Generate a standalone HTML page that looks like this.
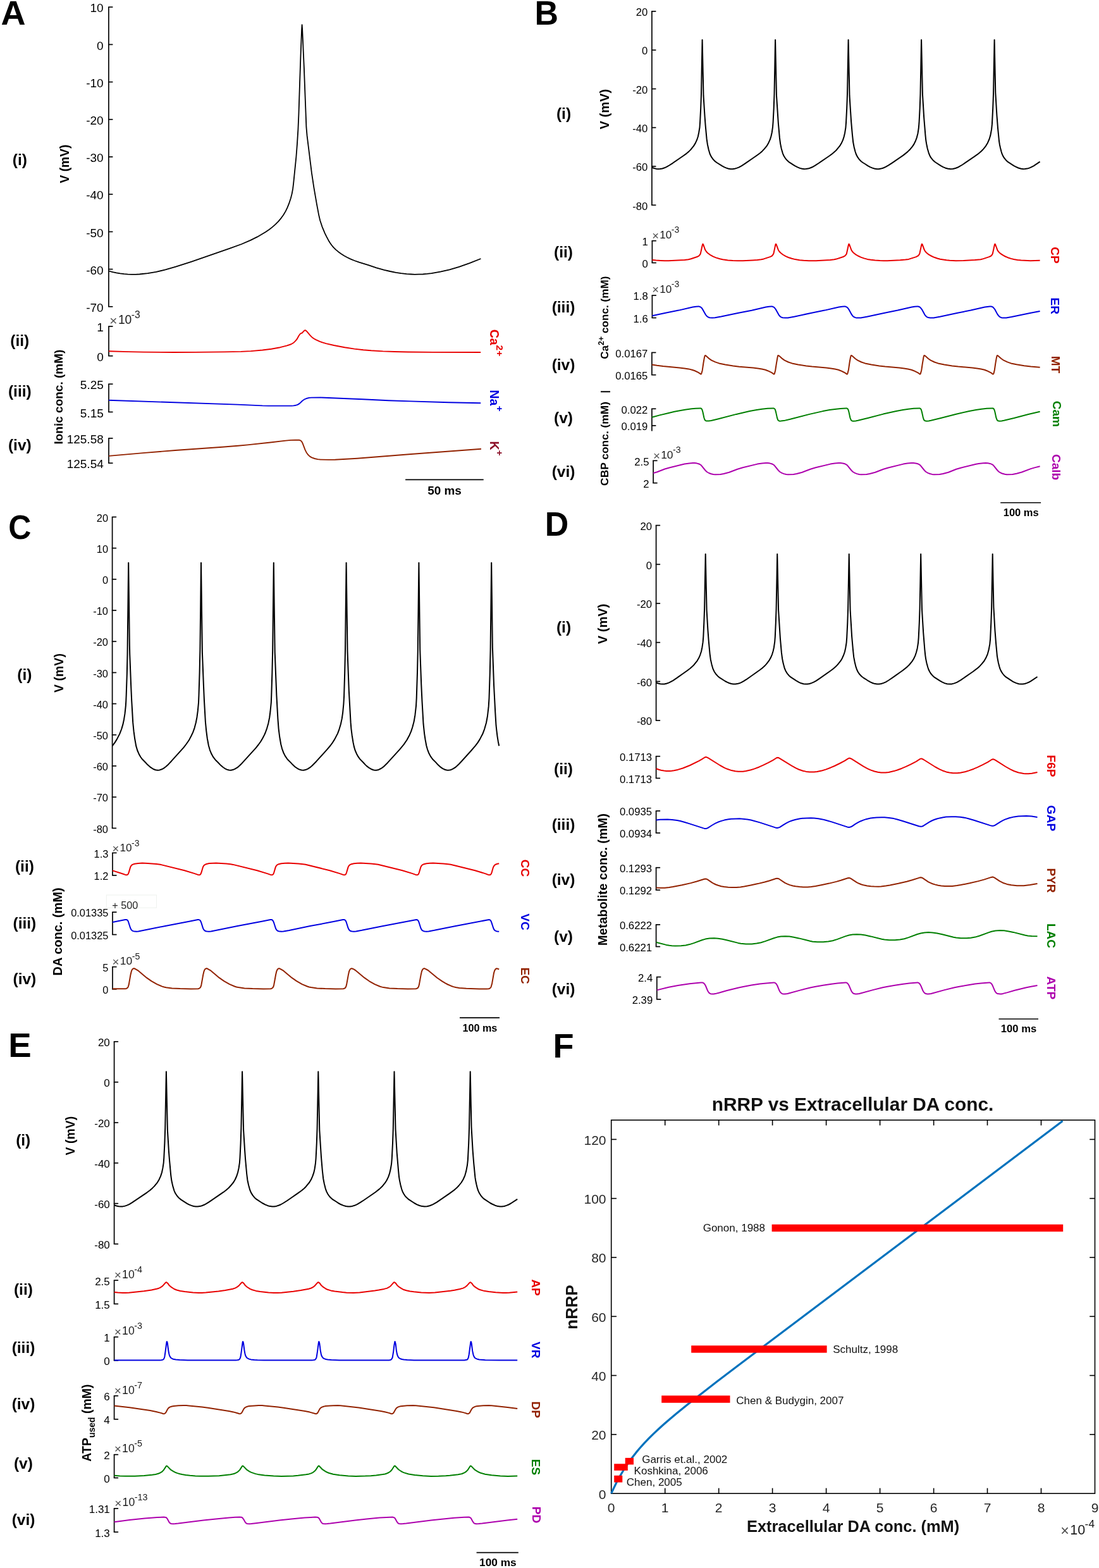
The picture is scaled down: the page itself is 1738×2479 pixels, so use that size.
<!DOCTYPE html>
<html><head><meta charset="utf-8"><title>Figure</title><style>html,body{margin:0;padding:0;background:#fff;overflow:hidden;}svg{display:block;}text{font-family:"Liberation Sans",Arial,Helvetica,sans-serif;}</style></head><body>
<svg width="1738" height="2479" viewBox="0 0 1738 2479"><text x="0" y="0" font-size="53" font-weight="bold" fill="#000" transform="translate(1.5 39) scale(1.02 1)">A</text>
<line x1="171.9" y1="11.2" x2="171.9" y2="484.8" stroke="#000" stroke-width="1.7" stroke-linecap="butt"/>
<line x1="171.1" y1="11.2" x2="178.4" y2="11.2" stroke="#000" stroke-width="1.7" stroke-linecap="butt"/>
<text x="163.7" y="19.4" font-size="19" text-anchor="end" fill="#000">10</text>
<line x1="171.1" y1="70.4" x2="178.4" y2="70.4" stroke="#000" stroke-width="1.7" stroke-linecap="butt"/>
<text x="163.7" y="78.6" font-size="19" text-anchor="end" fill="#000">0</text>
<line x1="171.1" y1="129.6" x2="178.4" y2="129.6" stroke="#000" stroke-width="1.7" stroke-linecap="butt"/>
<text x="163.7" y="137.8" font-size="19" text-anchor="end" fill="#000">-10</text>
<line x1="171.1" y1="188.8" x2="178.4" y2="188.8" stroke="#000" stroke-width="1.7" stroke-linecap="butt"/>
<text x="163.7" y="197" font-size="19" text-anchor="end" fill="#000">-20</text>
<line x1="171.1" y1="248" x2="178.4" y2="248" stroke="#000" stroke-width="1.7" stroke-linecap="butt"/>
<text x="163.7" y="256.2" font-size="19" text-anchor="end" fill="#000">-30</text>
<line x1="171.1" y1="307.2" x2="178.4" y2="307.2" stroke="#000" stroke-width="1.7" stroke-linecap="butt"/>
<text x="163.7" y="315.4" font-size="19" text-anchor="end" fill="#000">-40</text>
<line x1="171.1" y1="366.4" x2="178.4" y2="366.4" stroke="#000" stroke-width="1.7" stroke-linecap="butt"/>
<text x="163.7" y="374.6" font-size="19" text-anchor="end" fill="#000">-50</text>
<line x1="171.1" y1="425.6" x2="178.4" y2="425.6" stroke="#000" stroke-width="1.7" stroke-linecap="butt"/>
<text x="163.7" y="433.8" font-size="19" text-anchor="end" fill="#000">-60</text>
<line x1="171.1" y1="484.8" x2="178.4" y2="484.8" stroke="#000" stroke-width="1.7" stroke-linecap="butt"/>
<text x="163.7" y="493" font-size="19" text-anchor="end" fill="#000">-70</text>
<path d="M172.1 428.5 178.1 430.1 184.1 431.3 190.1 432.3 196.1 433.1 202.1 433.6 208.3 433.8 214.6 433.8 220.8 433.5 233.6 432.2 247.1 429.9 261.6 426.4 278.1 421.7 302.4 413.8 363.6 392.7 381.9 386 396.1 379.9 407.1 374.4 420.1 366.7 425.6 363 430.6 359.1 435.4 354.9 440.4 349.8 444.6 344.8 448.1 340 451.6 334.1 454.6 327.9 456.9 322.2 459.9 313.2 461.6 306.6 463.1 298.7 464.1 290.3 468.4 248 469.9 228.4 471.4 204.9 472.4 181.3 475.4 90.5 477.1 46.7 477.6 39.1 478.1 45.6 480.9 108.3 484.4 200.7 485.6 214.7 492.9 273.4 496.4 296.6 500.9 322.7 504.1 339.6 506.1 348.2 509.4 358.3 513.9 369.1 516.4 374.2 519.6 380.2 522.1 384.3 524.4 387.5 527.4 391.1 530.9 394.6 534.9 397.9 539.4 401.2 544.1 404.3 549.1 407 554.6 409.6 560.4 412 567.9 414.7 582.6 419.1 595.1 423.4 607.6 426.8 616.9 429 625.9 430.8 634.4 432.1 642.9 433.1 649.4 433.5 655.9 433.8 662.4 433.7 668.9 433.5 675.6 432.9 682.4 432.1 696.4 429.7 710.9 426.3 726.1 421.8 742.4 416.1 760.4 409" fill="none" stroke="#000" stroke-width="1.8" stroke-linejoin="round" stroke-linecap="butt"/>
<text x="31.3" y="260.8" font-size="24.5" font-weight="bold" text-anchor="middle" fill="#000">(i)</text>
<text x="108.9" y="259" font-size="19.3" font-weight="bold" text-anchor="middle" fill="#000" transform="rotate(-90 108.9 259)">V (mV)</text>
<line x1="172" y1="516" x2="172" y2="562.7" stroke="#000" stroke-width="1.7" stroke-linecap="butt"/>
<line x1="171.2" y1="516" x2="178.5" y2="516" stroke="#000" stroke-width="1.7" stroke-linecap="butt"/>
<text x="163.8" y="524.2" font-size="19" text-anchor="end" fill="#000">1</text>
<line x1="171.2" y1="562.7" x2="178.5" y2="562.7" stroke="#000" stroke-width="1.7" stroke-linecap="butt"/>
<text x="163.8" y="570.9" font-size="19" text-anchor="end" fill="#000">0</text>
<text x="173.3" y="514" font-size="20.8" fill="#505050">&#215;</text>
<text x="186.9" y="512.1" font-size="19.3" fill="#1a1a1a">10</text>
<text x="207.8" y="502.5" font-size="15.6" fill="#1a1a1a">-3</text>
<path d="M172 555.3 202.5 556.1 227 556.6 274.5 557 308 556.9 355.1 556.4 381.1 555.9 396.6 555.1 415.1 553.5 429.1 551.7 443.1 549.2 453.1 546.6 458.1 545 461.1 543.8 464.6 541.7 467.6 538.7 469.6 536.2 472.6 530.7 474.6 528 475.6 527.2 477.6 526.5 480.6 523.3 481.6 522.5 482.6 522.1 483.6 522.5 485.6 524.4 490.6 530.3 494.1 533.8 496.6 535.5 499.6 537.2 505.6 539.9 510.6 541.6 515.6 543.1 528.1 546 545.1 549.3 560.6 551.6 574.6 553.2 587.1 554.3 605.6 555.4 623.7 556 645.2 556.5 685.2 556.9 760.2 557" fill="none" stroke="#e80000" stroke-width="1.9" stroke-linejoin="round" stroke-linecap="butt"/>
<text x="31.3" y="547.2" font-size="24.5" font-weight="bold" text-anchor="middle" fill="#000">(ii)</text>
<line x1="172" y1="607.2" x2="172" y2="651.4" stroke="#000" stroke-width="1.7" stroke-linecap="butt"/>
<line x1="171.2" y1="607.2" x2="178.5" y2="607.2" stroke="#000" stroke-width="1.7" stroke-linecap="butt"/>
<text x="163.8" y="615.4" font-size="19" text-anchor="end" fill="#000">5.25</text>
<line x1="171.2" y1="651.4" x2="178.5" y2="651.4" stroke="#000" stroke-width="1.7" stroke-linecap="butt"/>
<text x="163.8" y="659.6" font-size="19" text-anchor="end" fill="#000">5.15</text>
<path d="M172 632.8 375.6 639.6 415.1 641.4 424.1 641.6 461.1 641.6 464.1 641.4 466.6 641 469.1 640.4 471.1 639.6 474.1 637.6 478.1 633.8 480.1 632.3 482.6 630.8 485.6 629.7 489.1 628.9 492.6 628.6 507.6 628.5 573.6 631.2 614.7 633.2 648.7 634.4 709.7 636.3 760.2 637.3" fill="none" stroke="#0000e0" stroke-width="1.9" stroke-linejoin="round" stroke-linecap="butt"/>
<text x="31.3" y="626.6" font-size="24.5" font-weight="bold" text-anchor="middle" fill="#000">(iii)</text>
<line x1="172" y1="692.9" x2="172" y2="732.2" stroke="#000" stroke-width="1.7" stroke-linecap="butt"/>
<line x1="171.2" y1="692.9" x2="178.5" y2="692.9" stroke="#000" stroke-width="1.7" stroke-linecap="butt"/>
<text x="163.8" y="701.1" font-size="19" text-anchor="end" fill="#000">125.58</text>
<line x1="171.2" y1="732.2" x2="178.5" y2="732.2" stroke="#000" stroke-width="1.7" stroke-linecap="butt"/>
<text x="163.8" y="740.4" font-size="19" text-anchor="end" fill="#000">125.54</text>
<path d="M172 720.9 229.5 715.9 277 712 351.5 706.8 376.5 704.8 391.5 703.4 427.5 699.5 452 696.6 460 695.9 467 695.6 473.5 695.8 475 696.3 476.5 697.4 477.5 698.8 478.5 700.7 482.5 711.1 484.5 715.2 487 718.8 490 721.6 493 723.4 497.5 725 502.5 726.1 507 726.6 519.5 726.9 530 726.7 565 724.7 650 718 761 709.7" fill="none" stroke="#922200" stroke-width="1.9" stroke-linejoin="round" stroke-linecap="butt"/>
<text x="31.3" y="712.2" font-size="24.5" font-weight="bold" text-anchor="middle" fill="#000">(iv)</text>
<text x="99" y="627.6" font-size="19" font-weight="bold" text-anchor="middle" fill="#000" transform="rotate(-90 99 627.6)">Ionic conc. (mM)</text>
<text x="775.3" y="542" font-size="19.5" font-weight="bold" text-anchor="middle" fill="#e80000" transform="rotate(90 775.3 542)">Ca<tspan dy="-10" font-size="15.5">2+</tspan></text>
<text x="775.3" y="633.5" font-size="19.5" font-weight="bold" text-anchor="middle" fill="#0000e0" transform="rotate(90 775.3 633.5)">Na<tspan dy="-10" font-size="15.5">+</tspan></text>
<text x="775.3" y="709" font-size="19.5" font-weight="bold" text-anchor="middle" fill="#8c1028" transform="rotate(90 775.3 709)">K<tspan dy="-10" font-size="15.5">+</tspan></text>
<line x1="641.1" y1="758.4" x2="764.7" y2="758.4" stroke="#000" stroke-width="1.6" stroke-linecap="butt"/>
<text x="703" y="782.2" font-size="18.9" font-weight="bold" text-anchor="middle">50 ms</text>
<text x="0" y="0" font-size="53" font-weight="bold" fill="#000" transform="translate(845.5 39) scale(0.98 1)">B</text>
<line x1="1030.9" y1="17.9" x2="1030.9" y2="324.3" stroke="#000" stroke-width="1.7" stroke-linecap="butt"/>
<line x1="1030.1" y1="17.9" x2="1037.4" y2="17.9" stroke="#000" stroke-width="1.7" stroke-linecap="butt"/>
<text x="1024.3" y="25.1" font-size="16.7" text-anchor="end" fill="#000">20</text>
<line x1="1030.1" y1="79.2" x2="1037.4" y2="79.2" stroke="#000" stroke-width="1.7" stroke-linecap="butt"/>
<text x="1024.3" y="86.4" font-size="16.7" text-anchor="end" fill="#000">0</text>
<line x1="1030.1" y1="140.5" x2="1037.4" y2="140.5" stroke="#000" stroke-width="1.7" stroke-linecap="butt"/>
<text x="1024.3" y="147.6" font-size="16.7" text-anchor="end" fill="#000">-20</text>
<line x1="1030.1" y1="201.7" x2="1037.4" y2="201.7" stroke="#000" stroke-width="1.7" stroke-linecap="butt"/>
<text x="1024.3" y="208.9" font-size="16.7" text-anchor="end" fill="#000">-40</text>
<line x1="1030.1" y1="263" x2="1037.4" y2="263" stroke="#000" stroke-width="1.7" stroke-linecap="butt"/>
<text x="1024.3" y="270.2" font-size="16.7" text-anchor="end" fill="#000">-60</text>
<line x1="1030.1" y1="324.3" x2="1037.4" y2="324.3" stroke="#000" stroke-width="1.7" stroke-linecap="butt"/>
<text x="1024.3" y="331.5" font-size="16.7" text-anchor="end" fill="#000">-80</text>
<path d="M1031 264.7 1034.4 266 1037.7 266.9 1041 267.2 1044.2 267.1 1047.5 266.5 1051 265.3 1054.1 263.9 1058.3 261.5 1064 257.8 1081.1 246 1085.8 242.6 1089.5 239.4 1092.3 236.6 1097.1 230.6 1099.7 226.4 1102.1 221.2 1103.9 215.7 1105.2 209.5 1106.5 201.5 1107.1 193 1108.2 171.1 1109 148.8 1110.6 63 1112.5 151.4 1114.5 183.3 1115.6 197.9 1117.6 219.7 1118.9 228.5 1120.6 236.2 1122.6 243.2 1124.6 247.4 1127.4 251.5 1130.3 254.6 1133.4 257 1142.4 262.7 1145.7 264.4 1148.8 265.6 1152.2 266.7 1155.4 267.2 1158.6 267.2 1161.8 266.7 1164.9 265.9 1168.3 264.6 1172.1 262.6 1176.4 259.9 1197.6 245.3 1202 242 1205.5 238.9 1208.8 235.4 1212.9 230.3 1215.4 225.9 1217.8 220.7 1219.5 215.2 1220.8 209.2 1222 200.9 1222.6 193 1223.7 171.1 1224.5 148.8 1226.1 63 1228 151.4 1230.9 195.5 1232.9 217.9 1234.1 227.1 1235.7 234.9 1237.8 242.3 1239.6 246.5 1242 250.3 1244.8 253.6 1248 256.4 1256.5 261.9 1261.3 264.4 1264.9 265.9 1268.3 266.8 1271.6 267.2 1274.7 267.1 1278 266.6 1281.4 265.5 1284.4 264.3 1288.7 261.9 1294.7 258 1311.9 246.2 1316.6 242.7 1320.3 239.6 1323.2 236.7 1328.1 230.7 1330.6 226.6 1333 221.4 1334.7 216.1 1336.1 210.2 1337.4 202 1338 194.2 1339.2 171.1 1340 148.8 1341.6 63 1343.5 151.4 1346.1 192.2 1347.9 212.6 1349.2 224.8 1350.7 232.7 1352.6 240 1354.1 244.3 1356.1 248.2 1358.8 252 1362 255.2 1364.4 257 1368.5 259.5 1372 261.9 1376 264.1 1379.8 265.6 1383.4 266.7 1386.7 267.2 1390 267.2 1393.4 266.6 1397 265.5 1400.6 263.9 1405.4 261.2 1411.6 257.1 1428.3 245.6 1434.9 240.4 1438.6 236.8 1443.1 231.4 1445.7 227.4 1448 222.5 1449.9 217.3 1451.5 210.9 1452.8 202.5 1453.5 194.2 1454.7 171.1 1455.5 148.8 1457.1 63 1459 150 1461.2 186.1 1463.4 213.3 1464.3 222 1465.2 227.5 1466.6 234.4 1468.4 240.8 1469.6 244.3 1471.2 247.6 1473.3 250.7 1475.6 253.4 1479.2 256.5 1487.5 261.9 1491.5 264.1 1495.3 265.7 1499.3 266.8 1503.2 267.2 1507 267 1511 266 1515.6 264.2 1521.9 260.5 1541.1 247.4 1547.6 242.7 1551.9 239 1555.2 235.6 1559 230.8 1561.9 225.9 1564.5 220 1566.4 213.6 1568.1 204.4 1568.9 196.4 1570.2 171.1 1571 148.8 1572.6 63 1574.3 146.7 1576.5 183.3 1578 202.4 1580 223 1580.8 228.2 1582 233.8 1583.4 239.3 1584.6 243.2 1586.3 246.9 1588.4 250.2 1590.9 253.2 1593.8 255.9 1603 261.9 1605.8 263.4 1610.4 265.5 1614.7 266.8 1618 267.2 1621.2 267.1 1624.5 266.6 1627.8 265.6 1630.6 264.4 1634.6 262.3 1644.6 255.7" fill="none" stroke="#000" stroke-width="2.0" stroke-linejoin="round" stroke-linecap="butt"/>
<text x="891.5" y="187.6" font-size="24.5" font-weight="bold" text-anchor="middle" fill="#000">(i)</text>
<text x="962.6" y="172.7" font-size="20.1" font-weight="bold" text-anchor="middle" fill="#000" transform="rotate(-90 962.6 172.7)">V (mV)</text>
<line x1="1031.4" y1="380.7" x2="1031.4" y2="415.5" stroke="#000" stroke-width="1.7" stroke-linecap="butt"/>
<line x1="1030.6" y1="380.7" x2="1037.9" y2="380.7" stroke="#000" stroke-width="1.7" stroke-linecap="butt"/>
<text x="1024.8" y="387.9" font-size="16.7" text-anchor="end" fill="#000">1</text>
<line x1="1030.6" y1="415.5" x2="1037.9" y2="415.5" stroke="#000" stroke-width="1.7" stroke-linecap="butt"/>
<text x="1024.8" y="422.7" font-size="16.7" text-anchor="end" fill="#000">0</text>
<text x="1031.3" y="378.7" font-size="18.5" fill="#505050">&#215;</text>
<text x="1043.3" y="377" font-size="17.1" fill="#1a1a1a">10</text>
<text x="1061.8" y="368.4" font-size="13.9" fill="#1a1a1a">-3</text>
<path d="M1031.4 410.9 1037.4 411.6 1044.4 412 1051.2 412.3 1057.2 412.2 1082.7 410.9 1088.7 410.2 1092.7 409.2 1103.2 405.7 1105.2 404.6 1106.4 403.4 1107.4 401.8 1107.9 400.6 1110.7 387.8 1111.4 385.8 1111.7 385.9 1112.2 386.7 1114.9 394.2 1115.7 395.8 1117.4 398.3 1119.4 400.3 1122.9 402.8 1127.9 405.6 1132.2 407.4 1138.4 409.3 1142.9 410.3 1151.2 411.4 1158.9 412 1166.7 412.3 1174.9 412.2 1190.5 411.4 1197.7 410.9 1203.7 410.3 1207.7 409.4 1217.7 406.1 1220 405.1 1221.5 403.9 1222.7 402.2 1223.5 400.5 1226.2 387.6 1226.7 386.1 1227 385.8 1227.2 385.9 1227.7 386.7 1231 395.5 1232.5 397.7 1234.5 399.8 1238 402.5 1242.5 405.1 1246.7 407 1252.2 408.8 1257.5 410.1 1264.5 411.2 1270.2 411.7 1279.2 412.2 1290.5 412.2 1313 410.9 1319.2 410.3 1322.5 409.6 1333.5 406 1335.2 405.2 1336.5 404.3 1337.7 402.9 1338.8 401.2 1341.8 387.5 1342.3 386 1342.5 385.8 1342.8 385.9 1343.3 386.8 1346.5 395.5 1347.8 397.5 1349.5 399.4 1352.8 402.1 1356.8 404.5 1361.3 406.6 1366.3 408.4 1371.8 409.9 1377.3 410.8 1383.8 411.6 1391.5 412.1 1397.5 412.3 1403.3 412.2 1423.5 411.3 1431.8 410.6 1436.8 409.9 1448.8 406.1 1451.5 404.7 1453 403.2 1454.3 401.1 1457.3 387.3 1457.8 386 1458 385.8 1458.8 386.9 1461.8 395.1 1462.8 396.8 1464.3 398.7 1466.8 401 1469.5 402.9 1473.3 405 1477.3 406.8 1482.3 408.5 1486.8 409.8 1496.8 411.3 1501.8 411.8 1511.6 412.3 1523.8 412.1 1541.8 411.1 1550.8 410.2 1555.1 409.1 1564.1 406.1 1566.1 405.3 1567.1 404.7 1568.1 403.8 1569.1 402.4 1569.8 401 1572.8 387.2 1573.3 385.9 1573.6 385.8 1574.3 387 1577.3 395.2 1578.3 396.9 1579.8 398.7 1582.6 401.2 1585.6 403.2 1589.8 405.5 1593.8 407.2 1598.8 408.9 1603.3 410 1609.1 410.9 1614.8 411.6 1629.6 412.3 1644.6 411.8" fill="none" stroke="#e80000" stroke-width="2.0" stroke-linejoin="round" stroke-linecap="butt"/>
<text x="891" y="406.8" font-size="24.5" font-weight="bold" text-anchor="middle" fill="#000">(ii)</text>
<line x1="1031.4" y1="467" x2="1031.4" y2="502.5" stroke="#000" stroke-width="1.7" stroke-linecap="butt"/>
<line x1="1030.6" y1="467" x2="1037.9" y2="467" stroke="#000" stroke-width="1.7" stroke-linecap="butt"/>
<text x="1024.8" y="474.2" font-size="16.7" text-anchor="end" fill="#000">1.8</text>
<line x1="1030.6" y1="502.5" x2="1037.9" y2="502.5" stroke="#000" stroke-width="1.7" stroke-linecap="butt"/>
<text x="1024.8" y="509.7" font-size="16.7" text-anchor="end" fill="#000">1.6</text>
<text x="1031.3" y="464.4" font-size="18.5" fill="#505050">&#215;</text>
<text x="1043.3" y="462.7" font-size="17.1" fill="#1a1a1a">10</text>
<text x="1061.8" y="454.1" font-size="13.9" fill="#1a1a1a">-3</text>
<path d="M1031.4 499.3 1052.4 494.7 1073.4 490.6 1095.4 485.5 1100.7 484.7 1104.2 484.4 1105.7 484.6 1107.4 485.2 1108.4 485.8 1109.7 486.9 1111.4 489.4 1115.9 497.5 1117.2 499.2 1118.7 500.6 1120.2 501.5 1122.2 502.3 1126.4 502.6 1130.7 502.3 1140.4 500.6 1167.9 494.7 1188.7 490.7 1211 485.5 1216 484.7 1219.5 484.4 1221 484.5 1222.7 485.1 1224 485.8 1225.2 487 1227 489.4 1231.5 497.6 1232.7 499.2 1234.2 500.7 1235.7 501.6 1237.7 502.3 1241.7 502.6 1246 502.4 1255.7 500.7 1283.5 494.7 1304.2 490.6 1326.5 485.5 1331.7 484.7 1335 484.4 1336.5 484.5 1338.3 485.1 1339.5 485.8 1340.8 487 1342.3 489.1 1346.8 497.2 1348 498.9 1349.5 500.5 1350.8 501.3 1352.8 502.1 1354.3 502.5 1356.8 502.6 1361.3 502.4 1371 500.7 1399 494.7 1419.8 490.6 1441.8 485.6 1446.5 484.8 1450.3 484.4 1451.8 484.5 1453.5 485 1454.8 485.7 1456 486.8 1457.8 489.1 1462.3 497.3 1463.5 499 1465 500.5 1466.3 501.4 1468 502.1 1471 502.5 1476.5 502.4 1486.3 500.8 1514.3 494.7 1535.3 490.6 1557.3 485.6 1565.3 484.4 1567.1 484.5 1568.3 484.7 1569.8 485.4 1570.8 486.1 1573.1 488.8 1577.3 496.6 1579.3 499.3 1580.6 500.6 1581.8 501.4 1583.8 502.2 1585.6 502.5 1591.3 502.5 1599.8 501.1 1630.1 494.7 1644.6 491.9" fill="none" stroke="#0000e0" stroke-width="2.0" stroke-linejoin="round" stroke-linecap="butt"/>
<text x="891" y="493.8" font-size="24.5" font-weight="bold" text-anchor="middle" fill="#000">(iii)</text>
<line x1="1030.9" y1="557.4" x2="1030.9" y2="592.7" stroke="#000" stroke-width="1.7" stroke-linecap="butt"/>
<line x1="1030.1" y1="557.4" x2="1037.4" y2="557.4" stroke="#000" stroke-width="1.7" stroke-linecap="butt"/>
<text x="1024.3" y="564.6" font-size="16.7" text-anchor="end" fill="#000">0.0167</text>
<line x1="1030.1" y1="592.7" x2="1037.4" y2="592.7" stroke="#000" stroke-width="1.7" stroke-linecap="butt"/>
<text x="1024.3" y="599.9" font-size="16.7" text-anchor="end" fill="#000">0.0165</text>
<path d="M1030.9 576.5 1038.9 577.8 1048.7 579.1 1074.7 581.4 1082.7 582.4 1089.2 583.4 1094.4 584.7 1098.4 586 1103.9 588.7 1105.9 589.8 1107.7 591.3 1108.7 591.6 1109.4 590.3 1110.7 585.7 1112.4 574 1113.9 565.4 1114.7 562.4 1115.2 561.9 1116.4 562.5 1120.9 566.6 1125.2 569.6 1131.2 572.4 1137.2 574.4 1146.9 576.6 1159.4 578.5 1168.9 579.7 1191.2 581.5 1198.7 582.4 1205 583.5 1210.5 584.8 1214.2 586.2 1220 588.9 1221.5 589.8 1223.2 591.3 1224 591.6 1224.5 591.3 1225 590.2 1226.2 585.5 1228 573.8 1229.5 565.2 1230.2 562.3 1230.5 562 1230.7 561.9 1232 562.6 1236.5 566.6 1240.7 569.6 1246.7 572.5 1252.5 574.4 1262.2 576.5 1275 578.6 1284.2 579.6 1306.7 581.5 1314.2 582.4 1320.5 583.5 1326 584.8 1329.7 586.2 1335.5 589 1337 589.9 1338.8 591.3 1339.5 591.6 1340 591.3 1340.5 590.1 1341.8 585.3 1343.5 573.5 1345 565 1345.8 562.3 1346 561.9 1346.3 561.9 1347.5 562.6 1352.8 567.2 1356.3 569.6 1362.3 572.5 1368 574.4 1378 576.6 1390.5 578.6 1399.8 579.6 1422.3 581.5 1429.8 582.4 1436 583.5 1441.5 584.8 1445.3 586.2 1450.8 588.8 1452.3 589.7 1454.3 591.3 1455 591.6 1455.5 591.2 1456 590 1457.3 585.2 1458.8 574.9 1460.5 564.8 1461.3 562.2 1461.5 561.9 1461.8 561.9 1463 562.6 1468.3 567.2 1471.8 569.6 1477.8 572.5 1483.5 574.4 1493.3 576.6 1505.8 578.5 1515.3 579.6 1537.8 581.5 1545.3 582.5 1551.6 583.5 1557.1 584.8 1560.8 586.2 1566.3 588.9 1567.8 589.7 1569.8 591.4 1570.6 591.6 1571.1 591.1 1571.6 589.9 1572.8 585 1574.3 574.6 1575.8 565.9 1576.6 562.7 1577.1 561.9 1578.3 562.4 1583.1 566.7 1587.3 569.7 1593.1 572.4 1598.8 574.4 1607.6 576.3 1619.6 578.3 1630.3 579.6 1644.6 580.7" fill="none" stroke="#922200" stroke-width="2.0" stroke-linejoin="round" stroke-linecap="butt"/>
<text x="891" y="584.7" font-size="24.5" font-weight="bold" text-anchor="middle" fill="#000">(iv)</text>
<line x1="1030.9" y1="646.3" x2="1030.9" y2="681.6" stroke="#000" stroke-width="1.7" stroke-linecap="butt"/>
<line x1="1030.1" y1="646.3" x2="1037.4" y2="646.3" stroke="#000" stroke-width="1.7" stroke-linecap="butt"/>
<text x="1024.3" y="653.5" font-size="16.7" text-anchor="end" fill="#000">0.022</text>
<line x1="1030.1" y1="672.9" x2="1037.4" y2="672.9" stroke="#000" stroke-width="1.7" stroke-linecap="butt"/>
<text x="1024.3" y="680.1" font-size="16.7" text-anchor="end" fill="#000">0.019</text>
<path d="M1030.9 659.7 1043.2 656.4 1056.4 653.2 1066.7 650.8 1076.2 648.9 1084.9 647.4 1093.9 646.3 1100.2 645.7 1107.4 645.4 1108.4 645.6 1109.2 646 1109.9 646.9 1110.4 647.9 1111.4 651.2 1113.4 660.5 1114.2 662.8 1114.9 664.2 1115.9 665.1 1117.2 665.6 1120.9 665.6 1124.7 665 1135.2 662.5 1164.4 654.9 1185.5 650.1 1196.7 648 1205 646.8 1214 645.8 1222.7 645.4 1223.7 645.6 1224.7 646.1 1225.5 646.9 1226 648 1227 651.4 1229 660.6 1230.2 663.9 1231 664.8 1232.2 665.5 1233.2 665.7 1235.2 665.6 1239.7 665.1 1249.7 662.8 1280.2 654.9 1301.2 650.1 1312 648.1 1320.2 646.9 1329.2 645.9 1338 645.4 1339.3 645.6 1340.3 646.1 1341 647 1341.5 648.1 1342.5 651.6 1344.5 660.8 1345.8 663.9 1346.5 664.8 1347.5 665.4 1348.5 665.7 1350 665.7 1353.3 665.4 1356.8 664.8 1372.3 661 1396.8 654.6 1417.3 650 1428 648 1436.5 646.8 1445 645.8 1453.5 645.4 1454.8 645.6 1455.8 646.1 1456.5 647.1 1457 648.2 1458 651.7 1459.8 660 1461 663.6 1461.8 664.6 1462.8 665.3 1463.8 665.6 1465.3 665.7 1468.8 665.4 1472.3 664.8 1487.8 661 1512.1 654.7 1532.8 650 1543.6 648 1552.1 646.8 1560.6 645.8 1569.1 645.4 1570.1 645.5 1571.1 646 1571.8 646.7 1572.3 647.6 1573.3 650.8 1575.3 660.1 1576.6 663.6 1577.3 664.6 1578.1 665.2 1579.1 665.6 1580.6 665.7 1584.1 665.5 1587.8 664.8 1603.6 661 1626.3 655 1644.6 650.7" fill="none" stroke="#007f00" stroke-width="2.0" stroke-linejoin="round" stroke-linecap="butt"/>
<text x="891" y="669.2" font-size="24.5" font-weight="bold" text-anchor="middle" fill="#000">(v)</text>
<line x1="1033.1" y1="728.3" x2="1033.1" y2="763.6" stroke="#000" stroke-width="1.7" stroke-linecap="butt"/>
<line x1="1032.2" y1="728.3" x2="1039.6" y2="728.3" stroke="#000" stroke-width="1.7" stroke-linecap="butt"/>
<text x="1026.5" y="735.5" font-size="16.7" text-anchor="end" fill="#000">2.5</text>
<line x1="1032.2" y1="763.6" x2="1039.6" y2="763.6" stroke="#000" stroke-width="1.7" stroke-linecap="butt"/>
<text x="1026.5" y="770.8" font-size="16.7" text-anchor="end" fill="#000">2</text>
<text x="1033" y="726.8" font-size="18.8" fill="#505050">&#215;</text>
<text x="1045.2" y="725.1" font-size="17.4" fill="#1a1a1a">10</text>
<text x="1064.1" y="716.4" font-size="14.1" fill="#1a1a1a">-3</text>
<path d="M1033.1 748 1039.1 746.2 1051.3 741.5 1059.3 739.2 1082.6 733.5 1090.3 732.4 1095.8 732 1098.8 732.1 1102.3 732.6 1104.6 733.2 1106.6 734 1108.1 735 1109.3 736.1 1115.3 743.5 1116.8 745.1 1118.6 746.5 1121.3 748 1124.8 749.2 1128.1 750 1131.1 750.3 1139.3 749.9 1144.6 749 1153.1 746.7 1166.3 741.7 1174.6 739.3 1197.8 733.6 1205.3 732.5 1211.1 732 1214.3 732.1 1217.8 732.6 1220.1 733.2 1222.1 734 1223.6 735 1224.8 736.1 1230.8 743.5 1232.3 745.1 1234.1 746.5 1236.6 747.9 1239.8 749.1 1243.3 750 1246.3 750.3 1254.8 749.9 1260.1 749 1268.6 746.7 1281.6 741.7 1289.8 739.3 1313.3 733.6 1320.3 732.5 1326.1 732 1329.3 732.1 1332.8 732.5 1335.1 733 1337.3 733.9 1338.8 734.8 1340.3 736.1 1346.3 743.5 1347.8 745.1 1349.6 746.5 1352.1 747.9 1355.3 749.1 1358.8 750 1361.8 750.3 1370.3 749.9 1375.6 749 1384.1 746.7 1397.1 741.7 1404.8 739.5 1428.6 733.6 1435.1 732.6 1441.1 732.1 1444.6 732.1 1448.1 732.5 1450.6 733 1452.8 733.9 1454.3 734.8 1455.8 736.1 1461.8 743.5 1463.3 745.1 1465.1 746.5 1467.6 747.9 1470.6 749 1474.1 749.9 1477.1 750.3 1485.8 749.9 1491.3 749 1499.8 746.7 1512.3 741.8 1519.3 739.7 1543.6 733.7 1547.8 733 1554.8 732.2 1558.8 732 1562.3 732.3 1565.6 732.9 1568.3 733.9 1569.8 734.8 1571.3 736.1 1577.3 743.5 1578.8 745.1 1580.3 746.3 1582.8 747.7 1585.3 748.7 1589.1 749.8 1592.1 750.3 1601.3 749.9 1607.6 748.8 1615.8 746.5 1630.1 741.1 1636.1 739.4 1644.6 737.3" fill="none" stroke="#ad00ad" stroke-width="2.0" stroke-linejoin="round" stroke-linecap="butt"/>
<text x="891" y="754.4" font-size="24.5" font-weight="bold" text-anchor="middle" fill="#000">(vi)</text>
<text x="961.7" y="502.2" font-size="17.1" font-weight="bold" text-anchor="middle" fill="#000" transform="rotate(-90 961.7 502.2)">Ca<tspan dy="-7" font-size="12.5">2+</tspan><tspan dy="7"> conc. (mM)</tspan></text>
<text x="961.8" y="619.3" font-size="16" font-weight="bold" text-anchor="middle" transform="rotate(-90 961.8 619.3)">|</text>
<text x="961.6" y="701.4" font-size="17.4" font-weight="bold" text-anchor="middle" fill="#000" transform="rotate(-90 961.6 701.4)">CBP conc. (mM)</text>
<text x="1662" y="403.5" font-size="19" font-weight="bold" text-anchor="middle" fill="#e80000" transform="rotate(90 1662 403.5)">CP</text>
<text x="1662" y="483.7" font-size="19" font-weight="bold" text-anchor="middle" fill="#0000e0" transform="rotate(90 1662 483.7)">ER</text>
<text x="1663" y="576.5" font-size="19" font-weight="bold" text-anchor="middle" fill="#922200" transform="rotate(90 1663 576.5)">MT</text>
<text x="1664.5" y="654.4" font-size="19" font-weight="bold" text-anchor="middle" fill="#007f00" transform="rotate(90 1664.5 654.4)">Cam</text>
<text x="1663.5" y="738.6" font-size="19" font-weight="bold" text-anchor="middle" fill="#ad00ad" transform="rotate(90 1663.5 738.6)">Calb</text>
<line x1="1582.2" y1="794.8" x2="1646.1" y2="794.8" stroke="#000" stroke-width="1.6" stroke-linecap="butt"/>
<text x="1614.7" y="816" font-size="16.5" font-weight="bold" text-anchor="middle">100 ms</text>
<text x="0" y="0" font-size="53" font-weight="bold" fill="#000" transform="translate(13.2 851.8) scale(0.945 1)">C</text>
<line x1="177.6" y1="817.4" x2="177.6" y2="1309.4" stroke="#000" stroke-width="1.7" stroke-linecap="butt"/>
<line x1="176.8" y1="817.4" x2="184.1" y2="817.4" stroke="#000" stroke-width="1.7" stroke-linecap="butt"/>
<text x="171" y="824.5" font-size="16.4" text-anchor="end" fill="#000">20</text>
<line x1="176.8" y1="866.6" x2="184.1" y2="866.6" stroke="#000" stroke-width="1.7" stroke-linecap="butt"/>
<text x="171" y="873.7" font-size="16.4" text-anchor="end" fill="#000">10</text>
<line x1="176.8" y1="915.8" x2="184.1" y2="915.8" stroke="#000" stroke-width="1.7" stroke-linecap="butt"/>
<text x="171" y="922.9" font-size="16.4" text-anchor="end" fill="#000">0</text>
<line x1="176.8" y1="965" x2="184.1" y2="965" stroke="#000" stroke-width="1.7" stroke-linecap="butt"/>
<text x="171" y="972.1" font-size="16.4" text-anchor="end" fill="#000">-10</text>
<line x1="176.8" y1="1014.2" x2="184.1" y2="1014.2" stroke="#000" stroke-width="1.7" stroke-linecap="butt"/>
<text x="171" y="1021.3" font-size="16.4" text-anchor="end" fill="#000">-20</text>
<line x1="176.8" y1="1063.4" x2="184.1" y2="1063.4" stroke="#000" stroke-width="1.7" stroke-linecap="butt"/>
<text x="171" y="1070.5" font-size="16.4" text-anchor="end" fill="#000">-30</text>
<line x1="176.8" y1="1112.6" x2="184.1" y2="1112.6" stroke="#000" stroke-width="1.7" stroke-linecap="butt"/>
<text x="171" y="1119.7" font-size="16.4" text-anchor="end" fill="#000">-40</text>
<line x1="176.8" y1="1161.8" x2="184.1" y2="1161.8" stroke="#000" stroke-width="1.7" stroke-linecap="butt"/>
<text x="171" y="1168.9" font-size="16.4" text-anchor="end" fill="#000">-50</text>
<line x1="176.8" y1="1211" x2="184.1" y2="1211" stroke="#000" stroke-width="1.7" stroke-linecap="butt"/>
<text x="171" y="1218.1" font-size="16.4" text-anchor="end" fill="#000">-60</text>
<line x1="176.8" y1="1260.2" x2="184.1" y2="1260.2" stroke="#000" stroke-width="1.7" stroke-linecap="butt"/>
<text x="171" y="1267.3" font-size="16.4" text-anchor="end" fill="#000">-70</text>
<line x1="176.8" y1="1309.4" x2="184.1" y2="1309.4" stroke="#000" stroke-width="1.7" stroke-linecap="butt"/>
<text x="171" y="1316.5" font-size="16.4" text-anchor="end" fill="#000">-80</text>
<path d="M177.6 1179.3 181.5 1174.1 184.8 1168.9 189.2 1160.4 192.1 1153 194.5 1144.9 196.1 1137.2 197.5 1128.4 198.8 1116.2 199.3 1108.1 199.7 1098.6 200.8 1065.7 201.5 1034.7 203.2 889.8 204.9 1020.5 205.2 1033.9 207.1 1083 208.2 1107.6 210.2 1142.4 211.6 1156.7 213.2 1168.3 215.2 1179.4 217.3 1186.5 220.3 1193.3 222.5 1197 224.7 1200 230.1 1205.5 233.4 1209.1 238.2 1213.2 242.6 1216 245.9 1217.2 249.2 1217.7 252.4 1217.4 255.7 1216.3 258.9 1214.6 262.1 1212.2 266.3 1208.4 271.2 1203.2 290.4 1181.8 294.5 1176.5 298 1171.5 299.6 1168.9 302.4 1163.5 305.1 1157.9 307.6 1150.8 309.8 1142.5 311.5 1133.7 312.8 1123.9 314 1111.2 314.5 1098.6 315.6 1063.4 316.4 1027.6 318 889.8 319.9 1031.8 321.9 1083 322.9 1106.4 324.9 1141.5 326.2 1155.1 327.8 1167.5 329.9 1178.8 331.9 1185.8 334.5 1192.1 337.4 1197.2 340.5 1201.2 344.6 1205.2 349.2 1210.1 352.4 1212.8 355.3 1214.8 358.8 1216.6 362 1217.5 365.1 1217.7 368.3 1217.1 371.7 1215.7 375.4 1213.4 378.8 1210.5 382.7 1206.7 404.3 1182.8 408.6 1177.5 412.2 1172.5 415.3 1167.3 418.1 1161.9 419.6 1158.5 422.1 1151.6 424.4 1143.4 426.2 1134.5 427.5 1124.5 428.8 1111.2 429.3 1098.6 430.4 1063.4 431.2 1027.6 432.8 889.8 434.7 1031.8 437.4 1099.9 439.4 1136.4 440.6 1152.1 442.2 1165 444.3 1177 446 1183.6 448.2 1189.7 450.9 1195.1 454.1 1199.8 456.1 1202 459.8 1205.6 463 1209.1 466.4 1212.2 470.1 1214.8 473.6 1216.6 476.8 1217.5 480 1217.7 483.3 1217.1 486.7 1215.6 490.2 1213.4 493.9 1210.3 500.3 1203.7 517.3 1184.9 522.3 1179 526.1 1173.8 529.2 1168.9 534 1159.6 536.5 1152.8 538.9 1144.7 540.7 1136.4 542.1 1126.8 543.4 1113 544.1 1100.5 545.2 1063.4 546 1027.6 547.6 889.8 549.5 1029.5 551.8 1091.8 554.6 1142.4 555.4 1152.1 556.7 1162.7 558.4 1173.2 559.8 1180.1 561.5 1186 563.8 1191.4 566.4 1196.2 569.2 1200.1 574.5 1205.5 577.8 1209.1 579.9 1211.1 584 1214.2 587.8 1216.3 589.6 1217 591.4 1217.5 593.3 1217.7 595.1 1217.7 598.8 1216.9 602.6 1215 605 1213.4 607.1 1211.7 613.2 1205.7 632.1 1184.9 638.5 1177.1 643.4 1170 647.6 1162.2 650.1 1156.4 652.3 1149.8 654.6 1141.1 656.4 1130.7 658 1116.2 658.7 1104 660 1063.4 660.8 1027.6 662.4 889.8 664.2 1027 666.2 1081.4 667.5 1108.9 669.5 1144.2 671.2 1160.3 672.6 1169.5 674.3 1178.8 676 1184.8 678 1190.2 680.8 1195.6 684.1 1200.3 689.3 1205.4 692.6 1209.1 695.3 1211.6 697.9 1213.6 700.1 1215.1 702.3 1216.2 704.4 1217 706.4 1217.5 708.5 1217.7 710.5 1217.6 712.5 1217.2 714.6 1216.4 717 1215.2 719.8 1213.4 722.6 1211 725.8 1208 730.7 1202.8 744.5 1187.5 751.5 1179.4 755.5 1174.1 758.8 1168.9 763.3 1160.3 766.2 1152.6 769 1142.8 770.9 1132.5 772.7 1116.9 773.5 1104 774.8 1063.4 775.6 1027.6 777.2 889.8 778.9 1024.1 781.1 1084.5 783.2 1125.5 784.5 1146.7 785.4 1155.1 786.5 1164.1 787.9 1172.9 789.2 1179.3" fill="none" stroke="#000" stroke-width="2.0" stroke-linejoin="round" stroke-linecap="butt"/>
<text x="38.9" y="1074.5" font-size="24.5" font-weight="bold" text-anchor="middle" fill="#000">(i)</text>
<text x="99.9" y="1064" font-size="19.5" font-weight="bold" text-anchor="middle" fill="#000" transform="rotate(-90 99.9 1064)">V (mV)</text>
<line x1="178" y1="1348.4" x2="178" y2="1384" stroke="#000" stroke-width="1.7" stroke-linecap="butt"/>
<line x1="177.2" y1="1348.4" x2="184.5" y2="1348.4" stroke="#000" stroke-width="1.7" stroke-linecap="butt"/>
<text x="171.4" y="1355.5" font-size="16.4" text-anchor="end" fill="#000">1.3</text>
<line x1="177.2" y1="1384" x2="184.5" y2="1384" stroke="#000" stroke-width="1.7" stroke-linecap="butt"/>
<text x="171.4" y="1391.1" font-size="16.4" text-anchor="end" fill="#000">1.2</text>
<text x="177.6" y="1347.7" font-size="18.5" fill="#505050">&#215;</text>
<text x="189.6" y="1346" font-size="17.1" fill="#1a1a1a">10</text>
<text x="208.1" y="1337.5" font-size="13.9" fill="#1a1a1a">-3</text>
<path d="M178 1376.4 193.3 1381.2 198 1382.9 199.5 1383.2 201 1383.2 202 1382.7 203 1381.2 204 1378.4 205.8 1372.2 206.8 1369.7 208 1368 209.5 1366.9 212.8 1365.7 218.3 1364.9 225 1364.6 234 1364.9 247.3 1365.9 251.3 1366.4 254.8 1367.1 291.8 1376.2 307.8 1381.1 312.8 1382.9 315.3 1383.2 316.5 1382.9 317.5 1381.7 318.5 1379.2 321 1370.8 322.3 1368.6 323.8 1367.2 326.6 1366 330.8 1365.1 336.6 1364.7 341.8 1364.6 358.1 1365.5 364.6 1366.2 368.6 1366.9 406.6 1376.2 422.6 1381.1 427.6 1382.9 430.1 1383.2 431.3 1382.9 432.3 1381.8 433.3 1379.3 435.8 1370.9 436.8 1369 438.3 1367.4 440.8 1366.2 444.8 1365.3 450.3 1364.7 455.8 1364.6 472.1 1365.5 479.1 1366.2 483.1 1366.8 521.4 1376.2 537.4 1381.1 542.4 1382.9 544.9 1383.2 546.1 1382.9 547.1 1381.8 548.1 1379.3 550.6 1370.9 551.6 1369 553.1 1367.4 555.6 1366.2 559.6 1365.3 564.9 1364.7 570.4 1364.6 586.9 1365.5 593.9 1366.2 597.9 1366.8 636.4 1376.2 652.4 1381.1 657.2 1382.9 659.4 1383.2 660.9 1382.9 661.9 1381.8 662.9 1379.3 665.4 1370.9 666.4 1369 667.9 1367.4 670.4 1366.2 674.4 1365.3 679.4 1364.8 684.9 1364.6 701.4 1365.5 708.7 1366.2 712.7 1366.8 751.2 1376.2 767.2 1381.1 771.9 1382.9 774.2 1383.2 775.2 1383.1 775.9 1382.8 776.9 1381.3 777.9 1378.6 779.9 1371.6 780.7 1369.9 781.7 1368.4 782.9 1367.2 784.4 1366.5 786.4 1365.8 789.2 1365.3" fill="none" stroke="#e80000" stroke-width="2.0" stroke-linejoin="round" stroke-linecap="butt"/>
<text x="38.9" y="1377.8" font-size="24.5" font-weight="bold" text-anchor="middle" fill="#000">(ii)</text>
<rect x="168.3" y="1415" width="79.1" height="20.2" fill="none" stroke="#eef2ee" stroke-width="1"/>
<line x1="178" y1="1442.1" x2="178" y2="1477.6" stroke="#000" stroke-width="1.7" stroke-linecap="butt"/>
<line x1="177.2" y1="1442.1" x2="184.5" y2="1442.1" stroke="#000" stroke-width="1.7" stroke-linecap="butt"/>
<text x="171.4" y="1449.2" font-size="16.4" text-anchor="end" fill="#000">0.01335</text>
<line x1="177.2" y1="1477.6" x2="184.5" y2="1477.6" stroke="#000" stroke-width="1.7" stroke-linecap="butt"/>
<text x="171.4" y="1484.7" font-size="16.4" text-anchor="end" fill="#000">0.01325</text>
<text x="177.2" y="1436.9" font-size="16.2" fill="#262626">+ 500</text>
<path d="M178 1458.1 198 1454.1 199.5 1454 200.8 1454.3 201.8 1455.1 202.8 1456.8 206 1466.7 206.8 1468.5 207.8 1470.1 209 1471.3 210.8 1472.1 212.8 1472.6 215.8 1472.7 218.8 1472.4 227.5 1470.8 261.5 1463.9 300.5 1456.6 312.8 1454.1 314.5 1454.1 316 1454.6 317.3 1456.3 318.3 1458.8 321 1467.4 321.8 1469 322.8 1470.4 324 1471.5 325.8 1472.2 327.6 1472.6 330.3 1472.7 333.6 1472.4 342.3 1470.8 375.6 1464.1 415.3 1456.6 427.6 1454.1 429.1 1454 430.1 1454.2 430.8 1454.6 432.1 1456.3 433.1 1458.8 435.8 1467.3 436.6 1469 437.6 1470.4 438.8 1471.5 440.6 1472.2 442.3 1472.6 445.1 1472.7 448.3 1472.4 457.1 1470.9 490.4 1464.1 530.1 1456.6 542.4 1454.1 543.9 1454 544.9 1454.2 545.6 1454.6 546.9 1456.2 547.9 1458.7 550.6 1467.3 551.4 1468.9 552.4 1470.4 553.6 1471.5 555.4 1472.2 557.1 1472.5 559.6 1472.7 562.9 1472.4 572.1 1470.8 604.6 1464.2 658.4 1454 659.7 1454.2 660.4 1454.6 661.7 1456.2 662.7 1458.7 665.4 1467.3 666.2 1468.9 667.2 1470.4 668.4 1471.4 670.2 1472.2 671.9 1472.5 674.4 1472.7 677.9 1472.4 686.9 1470.8 719.4 1464.2 773.2 1454 774.4 1454.2 775.2 1454.6 776.4 1456.2 777.4 1458.6 780.2 1467.2 780.9 1468.9 781.9 1470.4 783.2 1471.4 784.9 1472.2 786.7 1472.5 789.2 1472.7" fill="none" stroke="#0000e0" stroke-width="2.0" stroke-linejoin="round" stroke-linecap="butt"/>
<text x="38.9" y="1468.2" font-size="24.5" font-weight="bold" text-anchor="middle" fill="#000">(iii)</text>
<line x1="178" y1="1528.6" x2="178" y2="1563.9" stroke="#000" stroke-width="1.7" stroke-linecap="butt"/>
<line x1="177.2" y1="1528.6" x2="184.5" y2="1528.6" stroke="#000" stroke-width="1.7" stroke-linecap="butt"/>
<text x="171.4" y="1535.7" font-size="16.4" text-anchor="end" fill="#000">5</text>
<line x1="177.2" y1="1563.9" x2="184.5" y2="1563.9" stroke="#000" stroke-width="1.7" stroke-linecap="butt"/>
<text x="171.4" y="1571" font-size="16.4" text-anchor="end" fill="#000">0</text>
<text x="177.6" y="1527" font-size="18.8" fill="#505050">&#215;</text>
<text x="189.8" y="1525.3" font-size="17.4" fill="#1a1a1a">10</text>
<text x="208.7" y="1516.6" font-size="14.1" fill="#1a1a1a">-5</text>
<path d="M178 1563.3 197.8 1563.3 199.8 1562.9 201.5 1561.9 202.3 1560.9 202.8 1559.8 203.8 1556.4 206.5 1540.9 207.8 1535.7 208.5 1533.8 209.5 1532.3 210.5 1531.4 211.5 1531.1 212.5 1531.3 213.8 1531.8 217.8 1534.1 232 1545.9 239.5 1551.1 248.3 1556.1 256.5 1559.6 259.5 1560.5 262.8 1561.2 272 1562.4 284.8 1563.1 302 1563.4 313.3 1563.2 315.3 1562.6 316.8 1561.3 317.8 1559.2 318.5 1556.5 321.3 1540.9 322.5 1535.8 323.3 1533.8 324.3 1532.3 325.3 1531.4 326.3 1531.1 327.3 1531.3 328.6 1531.8 332.6 1534.1 346.8 1545.9 354.3 1551.1 363.1 1556.1 371.1 1559.5 374.1 1560.5 377.1 1561.1 386.6 1562.4 399.3 1563.1 416.6 1563.4 428.1 1563.2 430.1 1562.6 431.6 1561.3 432.6 1559.2 433.3 1556.5 436.1 1541 437.3 1535.8 438.1 1533.9 439.1 1532.3 440.1 1531.4 441.1 1531.1 442.1 1531.3 443.3 1531.8 447.3 1534.1 461.6 1545.9 469.1 1551.1 477.8 1556.1 485.9 1559.5 488.9 1560.5 491.9 1561.1 501.4 1562.4 514.1 1563.1 530.9 1563.4 542.9 1563.2 544.9 1562.6 546.4 1561.4 547.4 1559.3 548.1 1556.6 550.9 1541.1 552.1 1535.8 552.9 1533.9 553.6 1532.6 554.6 1531.6 555.6 1531.2 556.6 1531.2 557.9 1531.7 560.4 1532.9 562.1 1534.1 576.4 1545.9 584.1 1551.3 592.6 1556.1 600.6 1559.5 603.4 1560.4 606.4 1561.1 615.9 1562.4 628.4 1563.1 644.9 1563.4 657.7 1563.2 659.7 1562.6 661.2 1561.4 662.2 1559.3 662.9 1556.6 665.7 1541.1 666.9 1535.9 667.7 1533.9 668.7 1532.3 669.7 1531.4 670.7 1531.1 671.7 1531.3 672.9 1531.8 676.9 1534 691.4 1546 699.2 1551.4 704.2 1554.4 708.2 1556.5 713.2 1558.7 717.2 1560.1 720.7 1561 726.4 1561.9 737.4 1562.8 757.9 1563.4 769.4 1563.4 772.9 1563.2 774.2 1562.8 775.4 1562 776.2 1561 776.9 1559.3 778.2 1554.4 780.9 1538.8 781.7 1535.9 782.7 1533.5 783.9 1531.8 785.2 1531.2 786.7 1531.4 789.2 1532.5" fill="none" stroke="#922200" stroke-width="2.0" stroke-linejoin="round" stroke-linecap="butt"/>
<text x="38.9" y="1556.4" font-size="24.5" font-weight="bold" text-anchor="middle" fill="#000">(iv)</text>
<text x="97.7" y="1472.9" font-size="20" font-weight="bold" text-anchor="middle" fill="#000" transform="rotate(-90 97.7 1472.9)">DA conc. (mM)</text>
<text x="824.4" y="1372.4" font-size="19" font-weight="bold" text-anchor="middle" fill="#e80000" transform="rotate(90 824.4 1372.4)">CC</text>
<text x="824.4" y="1457.5" font-size="19" font-weight="bold" text-anchor="middle" fill="#0000e0" transform="rotate(90 824.4 1457.5)">VC</text>
<text x="824.4" y="1542.6" font-size="19" font-weight="bold" text-anchor="middle" fill="#922200" transform="rotate(90 824.4 1542.6)">EC</text>
<line x1="727" y1="1609.1" x2="790" y2="1609.1" stroke="#000" stroke-width="1.6" stroke-linecap="butt"/>
<text x="758.9" y="1631.2" font-size="16.2" font-weight="bold" text-anchor="middle">100 ms</text>
<text x="0" y="0" font-size="53" font-weight="bold" fill="#000" transform="translate(861.8 846.9) scale(0.98 1)">D</text>
<line x1="1037.6" y1="830.6" x2="1037.6" y2="1139.1" stroke="#000" stroke-width="1.7" stroke-linecap="butt"/>
<line x1="1036.8" y1="830.6" x2="1044.1" y2="830.6" stroke="#000" stroke-width="1.7" stroke-linecap="butt"/>
<text x="1031" y="837.8" font-size="16.7" text-anchor="end" fill="#000">20</text>
<line x1="1036.8" y1="892.3" x2="1044.1" y2="892.3" stroke="#000" stroke-width="1.7" stroke-linecap="butt"/>
<text x="1031" y="899.5" font-size="16.7" text-anchor="end" fill="#000">0</text>
<line x1="1036.8" y1="954" x2="1044.1" y2="954" stroke="#000" stroke-width="1.7" stroke-linecap="butt"/>
<text x="1031" y="961.2" font-size="16.7" text-anchor="end" fill="#000">-20</text>
<line x1="1036.8" y1="1015.7" x2="1044.1" y2="1015.7" stroke="#000" stroke-width="1.7" stroke-linecap="butt"/>
<text x="1031" y="1022.9" font-size="16.7" text-anchor="end" fill="#000">-40</text>
<line x1="1036.8" y1="1077.4" x2="1044.1" y2="1077.4" stroke="#000" stroke-width="1.7" stroke-linecap="butt"/>
<text x="1031" y="1084.6" font-size="16.7" text-anchor="end" fill="#000">-60</text>
<line x1="1036.8" y1="1139.1" x2="1044.1" y2="1139.1" stroke="#000" stroke-width="1.7" stroke-linecap="butt"/>
<text x="1031" y="1146.3" font-size="16.7" text-anchor="end" fill="#000">-80</text>
<path d="M1037.6 1079.2 1041 1080.5 1044.2 1081.3 1047.4 1081.6 1050.6 1081.5 1053.9 1080.8 1057.2 1079.6 1060.3 1078.2 1064.5 1075.8 1070 1072.1 1086.8 1060.2 1091.4 1056.7 1095 1053.6 1097.8 1050.7 1102.5 1044.8 1105 1040.6 1107.3 1035.3 1109.1 1029.7 1110.4 1023.5 1111.6 1015.4 1112.3 1006.9 1113.3 984.8 1114.1 962.4 1115.7 876 1117.6 965 1119.5 997.1 1120.6 1011.8 1122.6 1033.8 1123.8 1042.7 1125.5 1050.4 1127.5 1057.4 1129.5 1061.7 1132.2 1065.8 1135.1 1068.9 1138.1 1071.4 1146.9 1077 1150.1 1078.7 1153.2 1080 1156.6 1081 1159.7 1081.5 1162.9 1081.6 1166 1081.1 1169.1 1080.3 1172.5 1078.9 1176.1 1076.9 1180.4 1074.2 1201.2 1059.5 1205.5 1056.2 1209 1053.1 1212.2 1049.6 1216.2 1044.4 1218.7 1040.1 1221 1034.8 1222.7 1029.2 1224 1023.2 1225.2 1014.8 1225.8 1006.9 1226.8 984.8 1227.6 962.4 1229.2 876 1231.1 965 1233.9 1009.4 1235.9 1031.9 1237.1 1041.2 1238.7 1049.1 1240.7 1056.5 1242.5 1060.7 1244.8 1064.6 1247.6 1067.9 1250.7 1070.7 1259.1 1076.2 1263.8 1078.8 1267.3 1080.3 1270.7 1081.2 1273.9 1081.6 1276.9 1081.5 1280.2 1081 1283.5 1079.9 1286.5 1078.6 1290.7 1076.3 1296.6 1072.4 1313.5 1060.5 1318.1 1057 1321.8 1053.8 1324.6 1050.9 1329.4 1044.9 1331.9 1040.7 1334.2 1035.5 1336 1030.2 1337.3 1024.2 1338.6 1016 1339.2 1008.1 1340.3 984.8 1341.1 962.4 1342.7 876 1344.6 965 1347.1 1006.1 1348.9 1026.6 1350.2 1038.9 1351.7 1046.8 1353.5 1054.2 1355 1058.5 1356.9 1062.5 1359.6 1066.3 1362.7 1069.5 1365.1 1071.3 1369.1 1073.8 1372.6 1076.2 1376.5 1078.4 1380.2 1080 1383.8 1081.1 1387 1081.6 1390.2 1081.5 1393.6 1081 1397.1 1079.9 1400.7 1078.3 1405.4 1075.5 1411.5 1071.4 1427.9 1059.8 1434.3 1054.6 1438 1051 1442.4 1045.6 1445 1041.5 1447.3 1036.6 1449.1 1031.3 1450.7 1024.9 1452 1016.5 1452.7 1008.1 1453.8 984.8 1454.6 962.4 1456.2 876 1458 963.6 1460.2 1000 1462.4 1027.3 1463.3 1036.1 1464.1 1041.6 1465.5 1048.5 1467.3 1055 1468.5 1058.5 1470.1 1061.8 1472.1 1065 1474.4 1067.7 1477.9 1070.9 1486.1 1076.2 1490 1078.4 1493.8 1080.1 1497.7 1081.2 1501.5 1081.6 1505.3 1081.4 1509.1 1080.4 1513.6 1078.6 1519.9 1074.9 1538.8 1061.7 1545.2 1056.9 1549.4 1053.2 1552.6 1049.7 1556.4 1045 1559.2 1040.1 1561.8 1034.1 1563.6 1027.6 1565.3 1018.4 1566.1 1010.3 1567.3 984.8 1568.1 962.4 1569.7 876 1571.4 960.2 1573.5 997.1 1575 1016.4 1576.9 1037.1 1577.8 1042.3 1578.9 1048 1580.3 1053.5 1581.5 1057.4 1583.2 1061.1 1585.3 1064.5 1587.7 1067.5 1590.5 1070.2 1599.6 1076.2 1602.3 1077.8 1606.8 1079.9 1611.1 1081.2 1614.3 1081.6 1617.4 1081.5 1620.7 1081 1624 1079.9 1626.7 1078.8 1630.6 1076.6 1640.5 1070" fill="none" stroke="#000" stroke-width="2.0" stroke-linejoin="round" stroke-linecap="butt"/>
<text x="891.5" y="1000" font-size="24.5" font-weight="bold" text-anchor="middle" fill="#000">(i)</text>
<text x="959.6" y="986.4" font-size="20.1" font-weight="bold" text-anchor="middle" fill="#000" transform="rotate(-90 959.6 986.4)">V (mV)</text>
<line x1="1037.6" y1="1195.7" x2="1037.6" y2="1230.4" stroke="#000" stroke-width="1.7" stroke-linecap="butt"/>
<line x1="1036.8" y1="1195.7" x2="1044.1" y2="1195.7" stroke="#000" stroke-width="1.7" stroke-linecap="butt"/>
<text x="1031" y="1202.9" font-size="16.7" text-anchor="end" fill="#000">0.1713</text>
<line x1="1036.8" y1="1230.4" x2="1044.1" y2="1230.4" stroke="#000" stroke-width="1.7" stroke-linecap="butt"/>
<text x="1031" y="1237.6" font-size="16.7" text-anchor="end" fill="#000">0.1713</text>
<path d="M1037.6 1215.3 1041.9 1216.8 1045.4 1217.7 1050.1 1218.6 1053.6 1218.9 1059.1 1219 1062.1 1218.8 1065.6 1218.2 1071.9 1216.9 1079.9 1214.5 1091.1 1210 1105.6 1202.8 1109.9 1200.4 1114.4 1197.5 1115.4 1197.1 1116.4 1196.9 1117.9 1197.3 1120.1 1198.4 1138.6 1210 1145.6 1213.8 1150.1 1215.8 1156.9 1218.1 1162.9 1219.3 1167.4 1219.8 1174.9 1219.7 1179.6 1219 1187.4 1217.2 1192.6 1215.6 1200.4 1212.7 1206.6 1209.9 1214.9 1205.9 1222.4 1201.9 1227.6 1198.5 1228.9 1197.9 1229.9 1197.8 1231.4 1198.1 1233.6 1199.3 1251.9 1210.7 1258.7 1214.4 1263.2 1216.5 1269.7 1218.7 1274.9 1219.9 1280.2 1220.6 1287.4 1220.6 1292.2 1220 1300.4 1218.2 1305.7 1216.6 1313.4 1213.7 1319.7 1211 1327.9 1207 1335.7 1202.9 1341.2 1199.3 1342.4 1198.8 1343.4 1198.6 1344.9 1199 1347.2 1200.1 1365.4 1211.6 1372.2 1215.3 1376.7 1217.4 1382.9 1219.5 1388.2 1220.7 1393.4 1221.4 1400.4 1221.5 1405.4 1220.9 1413.7 1219.1 1418.9 1217.5 1426.4 1214.7 1432.4 1212.2 1440.4 1208.3 1449 1203.8 1454.7 1200.2 1456 1199.6 1457 1199.5 1458.5 1199.8 1460.7 1201 1479 1212.5 1485.7 1216.1 1490.2 1218.2 1496.5 1220.4 1501.5 1221.5 1507 1222.3 1513.7 1222.3 1518.7 1221.8 1527 1220 1532.2 1218.4 1539.7 1215.7 1545.7 1213.1 1553.5 1209.4 1562.2 1204.8 1568.2 1201 1569.5 1200.5 1570.5 1200.3 1572 1200.7 1574.7 1202.1 1590.2 1212 1598 1216.4 1603.5 1219 1610 1221.2 1613.7 1222.1 1618.7 1223 1621.5 1223.2 1626.5 1223.2 1631.7 1222.7 1640.5 1220.9" fill="none" stroke="#e80000" stroke-width="2.0" stroke-linejoin="round" stroke-linecap="butt"/>
<text x="891" y="1224.2" font-size="24.5" font-weight="bold" text-anchor="middle" fill="#000">(ii)</text>
<line x1="1037.6" y1="1282.1" x2="1037.6" y2="1316.9" stroke="#000" stroke-width="1.7" stroke-linecap="butt"/>
<line x1="1036.8" y1="1282.1" x2="1044.1" y2="1282.1" stroke="#000" stroke-width="1.7" stroke-linecap="butt"/>
<text x="1031" y="1289.3" font-size="16.7" text-anchor="end" fill="#000">0.0935</text>
<line x1="1036.8" y1="1316.9" x2="1044.1" y2="1316.9" stroke="#000" stroke-width="1.7" stroke-linecap="butt"/>
<text x="1031" y="1324.1" font-size="16.7" text-anchor="end" fill="#000">0.0934</text>
<path d="M1037.6 1296.5 1043.9 1295.8 1055.6 1295.4 1062.9 1295.9 1070.9 1297 1075.9 1298 1082.1 1299.7 1089.9 1302.1 1112.4 1309.4 1114.1 1309.9 1115.6 1310 1117.6 1309.7 1119.6 1308.9 1126.4 1304.5 1131.4 1301.7 1135.4 1299.8 1140.1 1298.1 1145.4 1296.6 1152.1 1295.3 1156.1 1294.8 1163.9 1294.4 1169.4 1294.3 1174.9 1294.7 1181.9 1295.5 1187.6 1296.5 1201.6 1300.4 1226.1 1308.4 1229.1 1308.9 1231.1 1308.6 1233.1 1307.9 1239.7 1303.6 1244.4 1300.9 1248.4 1298.9 1252.9 1297.2 1258.2 1295.7 1265.2 1294.3 1269.2 1293.8 1275.9 1293.4 1282.4 1293.3 1287.4 1293.5 1294.2 1294.3 1300.7 1295.4 1305.9 1296.7 1315.2 1299.4 1339.7 1307.4 1342.7 1307.9 1344.7 1307.6 1346.7 1306.8 1352.9 1302.7 1357.2 1300.2 1361.2 1298.2 1365.2 1296.6 1370.4 1294.9 1376.7 1293.5 1380.9 1292.9 1386.2 1292.5 1394.2 1292.2 1398.9 1292.3 1405.9 1293 1413.4 1294.1 1418.9 1295.5 1428.2 1298.2 1453.2 1306.3 1456.2 1306.8 1458.2 1306.5 1460.2 1305.7 1469.7 1299.7 1473.7 1297.5 1477.2 1296 1481.7 1294.5 1486 1293.4 1491.7 1292.2 1496.2 1291.6 1505.2 1291.2 1511.2 1291.2 1518.5 1291.8 1526.2 1292.9 1531.5 1294.2 1540.2 1296.7 1566.2 1305.1 1568 1305.6 1569.5 1305.7 1571.5 1305.5 1573.7 1304.6 1582 1299.3 1586 1297.1 1589.2 1295.6 1596 1293.2 1603.7 1291.4 1610.5 1290.5 1623.2 1290.1 1631.5 1290.6 1640.5 1292" fill="none" stroke="#0000e0" stroke-width="2.0" stroke-linejoin="round" stroke-linecap="butt"/>
<text x="891" y="1312.4" font-size="24.5" font-weight="bold" text-anchor="middle" fill="#000">(iii)</text>
<line x1="1037.6" y1="1371.7" x2="1037.6" y2="1407.2" stroke="#000" stroke-width="1.7" stroke-linecap="butt"/>
<line x1="1036.8" y1="1371.7" x2="1044.1" y2="1371.7" stroke="#000" stroke-width="1.7" stroke-linecap="butt"/>
<text x="1031" y="1378.9" font-size="16.7" text-anchor="end" fill="#000">0.1293</text>
<line x1="1036.8" y1="1407.2" x2="1044.1" y2="1407.2" stroke="#000" stroke-width="1.7" stroke-linecap="butt"/>
<text x="1031" y="1414.4" font-size="16.7" text-anchor="end" fill="#000">0.1292</text>
<path d="M1037.6 1403.5 1043.4 1403.8 1051.1 1403.7 1058.1 1403 1064.1 1402.1 1078.6 1399.3 1092.4 1396.1 1101.9 1393.5 1113.9 1389.7 1115.6 1389.4 1117.1 1389.7 1119.1 1390.6 1126.4 1395.6 1128.9 1397 1132.1 1398.5 1135.6 1399.8 1140.6 1401.2 1145.1 1402.1 1151.6 1402.8 1157.6 1403.1 1164.4 1403 1170.9 1402.4 1176.9 1401.6 1187.4 1399.5 1198.6 1397.1 1209.4 1394.5 1216.6 1392.5 1227.1 1389 1228.9 1388.7 1230.4 1388.9 1231.9 1389.5 1241.4 1395.8 1245.2 1397.6 1248.9 1399.1 1253.9 1400.5 1258.2 1401.3 1264.4 1402.1 1270.2 1402.4 1277.2 1402.4 1282.7 1401.9 1289.7 1401 1299.9 1399 1311.4 1396.6 1322.7 1393.9 1329.9 1391.8 1340.7 1388.3 1342.4 1388 1343.9 1388.2 1345.4 1388.9 1354.9 1395.1 1358.4 1396.8 1361.9 1398.2 1366.7 1399.6 1371.2 1400.6 1377.2 1401.3 1382.4 1401.6 1389.2 1401.7 1393.4 1401.5 1400.9 1400.6 1407.4 1399.5 1420.7 1396.8 1433.9 1393.7 1442.7 1391.3 1454.2 1387.6 1456 1387.3 1457.5 1387.5 1459 1388.2 1468.2 1394.3 1471.5 1395.9 1474.7 1397.2 1479.2 1398.6 1483.7 1399.7 1488.5 1400.4 1494 1400.9 1501.2 1401 1506 1400.9 1513.5 1400.1 1519.5 1399.1 1533.5 1396.3 1547 1393.1 1556.2 1390.6 1567.7 1386.9 1569.5 1386.6 1571 1386.8 1572.7 1387.6 1581 1393.1 1586 1395.7 1592.5 1397.9 1599.2 1399.3 1608.2 1400.2 1619 1400.2 1629 1399.1 1640.5 1396.9" fill="none" stroke="#922200" stroke-width="2.0" stroke-linejoin="round" stroke-linecap="butt"/>
<text x="891" y="1398.5" font-size="24.5" font-weight="bold" text-anchor="middle" fill="#000">(iv)</text>
<line x1="1037.6" y1="1461.9" x2="1037.6" y2="1496.6" stroke="#000" stroke-width="1.7" stroke-linecap="butt"/>
<line x1="1036.8" y1="1461.9" x2="1044.1" y2="1461.9" stroke="#000" stroke-width="1.7" stroke-linecap="butt"/>
<text x="1031" y="1469.1" font-size="16.7" text-anchor="end" fill="#000">0.6222</text>
<line x1="1036.8" y1="1496.6" x2="1044.1" y2="1496.6" stroke="#000" stroke-width="1.7" stroke-linecap="butt"/>
<text x="1031" y="1503.8" font-size="16.7" text-anchor="end" fill="#000">0.6221</text>
<path d="M1037.6 1489.8 1053.6 1493.9 1058.6 1494.8 1062.4 1495.2 1067.9 1495.5 1077.1 1495.3 1084.4 1494.5 1090.6 1493.1 1096.9 1491.1 1110.1 1486.2 1115.6 1484.6 1122.1 1483.6 1129.4 1483.3 1135.6 1483.7 1142.4 1484.8 1150.1 1486.5 1167.4 1490.9 1171.6 1491.7 1179.6 1492.4 1188.9 1492.4 1196.6 1491.6 1203.4 1490.2 1210.1 1488.1 1223.6 1483.2 1229.1 1481.6 1235.1 1480.6 1241.9 1480.2 1248.4 1480.6 1255.4 1481.7 1263.4 1483.4 1280.9 1487.8 1285.2 1488.7 1292.7 1489.3 1301.9 1489.3 1309.9 1488.6 1316.9 1487.2 1323.7 1485.1 1337.2 1480.1 1342.7 1478.5 1348.4 1477.5 1354.9 1477.2 1361.4 1477.5 1368.4 1478.5 1376.9 1480.4 1394.4 1484.8 1398.7 1485.6 1406.2 1486.2 1415.2 1486.3 1423.2 1485.6 1430.2 1484.2 1436.9 1482.1 1450.7 1477 1456.2 1475.5 1462 1474.5 1468.2 1474.1 1474.7 1474.4 1482 1475.5 1490.2 1477.3 1508 1481.7 1512.2 1482.6 1519.5 1483.2 1528.5 1483.2 1535.2 1482.7 1542 1481.6 1549.2 1479.5 1562.5 1474.6 1568 1472.8 1574.2 1471.6 1581.5 1471.1 1588 1471.3 1595.2 1472.4 1602.5 1473.9 1620.7 1478.5 1625.5 1479.5 1631.7 1480.1 1640.5 1480.2" fill="none" stroke="#007f00" stroke-width="2.0" stroke-linejoin="round" stroke-linecap="butt"/>
<text x="891" y="1489.2" font-size="24.5" font-weight="bold" text-anchor="middle" fill="#000">(v)</text>
<line x1="1038.8" y1="1544.6" x2="1038.8" y2="1579.9" stroke="#000" stroke-width="1.7" stroke-linecap="butt"/>
<line x1="1038" y1="1544.6" x2="1045.3" y2="1544.6" stroke="#000" stroke-width="1.7" stroke-linecap="butt"/>
<text x="1032.2" y="1551.8" font-size="16.7" text-anchor="end" fill="#000">2.4</text>
<line x1="1038" y1="1579.9" x2="1045.3" y2="1579.9" stroke="#000" stroke-width="1.7" stroke-linecap="butt"/>
<text x="1032.2" y="1587.1" font-size="16.7" text-anchor="end" fill="#000">2.39</text>
<path d="M1038.8 1565.4 1057.6 1560.8 1072.1 1558.1 1090.6 1555.3 1108.3 1553.5 1110.6 1553.4 1111.6 1553.7 1112.8 1554.3 1114.6 1556.2 1116.1 1559 1119.1 1566.3 1120.1 1568 1121.3 1569.6 1122.6 1570.6 1123.8 1571.2 1126.3 1571.5 1128.6 1571.5 1131.3 1571.1 1137.6 1569.5 1148.8 1566.3 1155.8 1564.5 1169.3 1561.2 1176.6 1559.7 1188.4 1557.6 1201.6 1555.6 1211.9 1554.5 1223.9 1553.4 1225.1 1553.7 1226.1 1554.2 1227.1 1555 1228.1 1556.2 1229.4 1558.5 1232.6 1566.3 1233.6 1568.1 1234.9 1569.6 1236.1 1570.6 1237.4 1571.2 1239.4 1571.5 1241.6 1571.6 1245.4 1571 1266.9 1565.1 1282.4 1561.3 1290.1 1559.7 1301.6 1557.7 1314.9 1555.7 1324.6 1554.5 1337.1 1553.4 1338.4 1553.6 1339.4 1554 1340.4 1554.8 1341.4 1555.9 1342.9 1558.6 1346.2 1566.4 1347.2 1568.1 1348.2 1569.4 1349.4 1570.5 1350.7 1571.1 1352.7 1571.5 1354.9 1571.6 1358.9 1571 1380.4 1565.1 1395.9 1561.3 1403.7 1559.7 1415.2 1557.7 1428.4 1555.7 1438.2 1554.5 1450.7 1553.4 1451.9 1553.6 1452.9 1554.1 1453.9 1554.8 1454.9 1556 1456.4 1558.7 1459.4 1566 1460.4 1567.8 1461.7 1569.4 1462.9 1570.5 1464.2 1571.1 1466.2 1571.5 1468.4 1571.6 1472.4 1571 1493.7 1565.1 1509.5 1561.3 1517.2 1559.7 1528.7 1557.7 1542 1555.6 1551.7 1554.5 1564.2 1553.4 1565.5 1553.6 1566.5 1554.1 1567.5 1554.8 1568.5 1556 1570 1558.8 1573 1566.1 1574 1567.9 1575.2 1569.5 1576.5 1570.6 1577.7 1571.1 1581.7 1571.6 1583.7 1571.4 1586.2 1570.9 1593.2 1569.1 1604.7 1565.8 1623.2 1561.2 1630.7 1559.7 1640.5 1557.9" fill="none" stroke="#ad00ad" stroke-width="2.0" stroke-linejoin="round" stroke-linecap="butt"/>
<text x="891" y="1571.9" font-size="24.5" font-weight="bold" text-anchor="middle" fill="#000">(vi)</text>
<text x="959.9" y="1390.6" font-size="19.9" font-weight="bold" text-anchor="middle" fill="#000" transform="rotate(-90 959.9 1390.6)">Metabolite conc. (mM)</text>
<text x="1655.7" y="1211" font-size="19" font-weight="bold" text-anchor="middle" fill="#e80000" transform="rotate(90 1655.7 1211)">F6P</text>
<text x="1655.7" y="1293.5" font-size="19" font-weight="bold" text-anchor="middle" fill="#0000e0" transform="rotate(90 1655.7 1293.5)">GAP</text>
<text x="1655.7" y="1392" font-size="19" font-weight="bold" text-anchor="middle" fill="#922200" transform="rotate(90 1655.7 1392)">PYR</text>
<text x="1655.7" y="1479.5" font-size="19" font-weight="bold" text-anchor="middle" fill="#007f00" transform="rotate(90 1655.7 1479.5)">LAC</text>
<text x="1655.7" y="1561.9" font-size="19" font-weight="bold" text-anchor="middle" fill="#ad00ad" transform="rotate(90 1655.7 1561.9)">ATP</text>
<line x1="1579.5" y1="1611" x2="1642" y2="1611" stroke="#000" stroke-width="1.6" stroke-linecap="butt"/>
<text x="1611" y="1632.4" font-size="16.6" font-weight="bold" text-anchor="middle">100 ms</text>
<text x="0" y="0" font-size="53" font-weight="bold" fill="#000" transform="translate(13.3 1670.9) scale(1.03 1)">E</text>
<line x1="180.6" y1="1646.8" x2="180.6" y2="1966.7" stroke="#000" stroke-width="1.7" stroke-linecap="butt"/>
<line x1="179.8" y1="1646.8" x2="187.1" y2="1646.8" stroke="#000" stroke-width="1.7" stroke-linecap="butt"/>
<text x="173.8" y="1654.1" font-size="17" text-anchor="end" fill="#000">20</text>
<line x1="179.8" y1="1710.8" x2="187.1" y2="1710.8" stroke="#000" stroke-width="1.7" stroke-linecap="butt"/>
<text x="173.8" y="1718.1" font-size="17" text-anchor="end" fill="#000">0</text>
<line x1="179.8" y1="1774.8" x2="187.1" y2="1774.8" stroke="#000" stroke-width="1.7" stroke-linecap="butt"/>
<text x="173.8" y="1782.1" font-size="17" text-anchor="end" fill="#000">-20</text>
<line x1="179.8" y1="1838.7" x2="187.1" y2="1838.7" stroke="#000" stroke-width="1.7" stroke-linecap="butt"/>
<text x="173.8" y="1846" font-size="17" text-anchor="end" fill="#000">-40</text>
<line x1="179.8" y1="1902.7" x2="187.1" y2="1902.7" stroke="#000" stroke-width="1.7" stroke-linecap="butt"/>
<text x="173.8" y="1910" font-size="17" text-anchor="end" fill="#000">-60</text>
<line x1="179.8" y1="1966.7" x2="187.1" y2="1966.7" stroke="#000" stroke-width="1.7" stroke-linecap="butt"/>
<text x="173.8" y="1974" font-size="17" text-anchor="end" fill="#000">-80</text>
<path d="M180.6 1905.2 184.2 1906.5 187.6 1907.3 191 1907.6 194.3 1907.4 197.8 1906.6 201.4 1905.4 204.7 1903.8 209.1 1901.2 232.5 1885.3 237.3 1881.7 241 1878.4 244.1 1875.4 249 1869.3 251.7 1864.7 254.1 1859.4 256 1853.5 257.4 1846.9 258.7 1838.3 259.3 1830.1 260.4 1807.2 261.2 1783.9 262.9 1694.3 264.9 1786.7 266.9 1819.9 268.1 1835.1 270.2 1858 271.4 1866.8 273.2 1874.9 275.4 1882.3 277.4 1886.8 280.3 1891 283.3 1894.3 286.6 1896.9 295.9 1902.8 299.3 1904.6 302.5 1905.9 306.1 1907 309.4 1907.5 312.8 1907.5 316.1 1907.1 319.4 1906.2 323 1904.8 326.9 1902.7 331.3 1899.9 353.5 1884.7 358 1881.2 361.7 1878 365.1 1874.3 369.4 1869 372 1864.5 374.4 1859 376.2 1853.2 377.6 1846.9 378.9 1838.3 379.5 1830.1 380.6 1807.2 381.4 1783.9 383.1 1694.3 385.1 1786.7 387.1 1818.9 388.1 1832.7 390.2 1856 391.4 1865.7 393.1 1873.8 395.3 1881.5 397.2 1885.9 399.7 1889.9 402.6 1893.4 405.8 1896.2 414.7 1902 419.7 1904.6 423.5 1906.2 427 1907.1 430.4 1907.6 433.6 1907.5 437.1 1906.9 440.6 1905.8 443.8 1904.5 448.2 1902 454.5 1898 472.3 1885.6 477.3 1882 481.2 1878.7 484.1 1875.7 489.2 1869.5 491.9 1865.1 494.3 1859.7 496.2 1854.2 497.6 1848.1 498.9 1839.5 499.6 1831.3 500.8 1807.2 501.6 1783.9 503.3 1694.3 505.3 1786.7 508 1829.2 509.8 1850.5 511.2 1863.2 512.8 1871.5 514.7 1879.1 516.3 1883.6 518.4 1887.7 521.2 1891.7 524.5 1895 527 1896.9 531.3 1899.5 534.9 1902 539.1 1904.3 543 1905.9 546.8 1907 550.2 1907.5 553.6 1907.5 557.2 1906.9 560.9 1905.8 564.7 1904.1 569.7 1901.2 576.1 1897 593.5 1885 600.3 1879.6 604.3 1875.8 608.9 1870.2 611.6 1866 614.1 1860.9 616 1855.4 617.6 1848.8 619.1 1840 619.8 1831.3 621 1807.2 621.8 1783.9 623.5 1694.3 625.5 1785.2 627.7 1822.9 630.1 1851.2 631 1860.3 631.9 1866.1 633.4 1873.3 635.2 1880 636.5 1883.6 638.2 1887 640.3 1890.3 642.7 1893.1 646.5 1896.4 655.1 1902 659.3 1904.3 663.3 1906 667.4 1907.1 671.5 1907.6 675.5 1907.3 679.6 1906.3 684.3 1904.4 690.9 1900.6 710.9 1886.9 717.7 1881.9 722.2 1878.1 725.6 1874.5 729.6 1869.5 732.6 1864.5 735.3 1858.3 737.2 1851.6 739 1842 739.9 1833.6 741.2 1807.2 742 1783.9 743.7 1694.3 745.5 1781.7 747.7 1819.9 749.3 1839.9 751.4 1861.4 752.2 1866.8 753.5 1872.7 754.9 1878.4 756.2 1882.4 758 1886.3 760.2 1889.8 762.7 1892.9 765.7 1895.7 775.3 1902 778.1 1903.5 782.8 1905.7 787.3 1907.1 790.7 1907.5 794 1907.5 797.5 1907 801 1905.9 803.8 1904.8 808 1902.5 818.2 1895.8" fill="none" stroke="#000" stroke-width="2.0" stroke-linejoin="round" stroke-linecap="butt"/>
<text x="36.7" y="1811.3" font-size="24.5" font-weight="bold" text-anchor="middle" fill="#000">(i)</text>
<text x="117.6" y="1795.5" font-size="19.5" font-weight="bold" text-anchor="middle" fill="#000" transform="rotate(-90 117.6 1795.5)">V (mV)</text>
<line x1="180.6" y1="2024.2" x2="180.6" y2="2061.5" stroke="#000" stroke-width="1.7" stroke-linecap="butt"/>
<line x1="179.8" y1="2024.2" x2="187.1" y2="2024.2" stroke="#000" stroke-width="1.7" stroke-linecap="butt"/>
<text x="173.8" y="2031.5" font-size="17" text-anchor="end" fill="#000">2.5</text>
<line x1="179.8" y1="2061.5" x2="187.1" y2="2061.5" stroke="#000" stroke-width="1.7" stroke-linecap="butt"/>
<text x="173.8" y="2068.8" font-size="17" text-anchor="end" fill="#000">1.5</text>
<text x="180.8" y="2022.2" font-size="19.0" fill="#505050">&#215;</text>
<text x="193.1" y="2020.5" font-size="17.6" fill="#1a1a1a">10</text>
<text x="212.2" y="2011.7" font-size="14.3" fill="#1a1a1a">-4</text>
<path d="M180.6 2043.1 186.4 2043.6 193.9 2043.9 198.6 2044 203.9 2043.7 227.6 2041.2 239.6 2039.4 248.6 2037.5 251.1 2036.7 253.1 2035.8 256.9 2033.4 261.6 2028.1 262.4 2027.5 262.9 2027.3 263.6 2027.5 265.1 2028.7 267.6 2032.2 270.4 2034.6 275.6 2038 279.4 2039.5 285.1 2041 291.9 2042.1 305.1 2043.5 314.1 2043.9 319.1 2044 325.6 2043.6 345.6 2041.5 356.1 2040 368.1 2037.7 372.1 2036.4 375.6 2034.4 377.6 2032.8 381.9 2028 382.6 2027.4 383.1 2027.3 383.9 2027.6 385.4 2028.8 387.9 2032.3 390.4 2034.5 395.6 2037.9 399.1 2039.3 404.9 2040.9 411.4 2042 424.6 2043.5 432.9 2043.9 438.9 2044 445.1 2043.7 463.9 2041.7 475.6 2040.1 488.1 2037.7 492.1 2036.5 495.6 2034.6 497.6 2033 502.2 2027.9 502.9 2027.4 503.4 2027.3 504.2 2027.6 505.7 2028.8 508.2 2032.3 510.2 2034.1 515.2 2037.5 517.9 2038.8 523.2 2040.4 529.2 2041.6 541.7 2043.1 548.2 2043.7 558.9 2044 568.7 2043.4 592.7 2040.6 598.9 2039.6 607.4 2037.9 612.2 2036.6 615.7 2034.7 617.7 2033.2 622.2 2028.1 622.9 2027.5 623.4 2027.3 624.2 2027.5 625.7 2028.6 628.2 2032.1 630.2 2034 634.9 2037.2 637.7 2038.7 642.7 2040.2 648.4 2041.5 654.4 2042.3 666.2 2043.6 678.7 2044 687.9 2043.5 712.4 2040.7 718.7 2039.7 727.2 2038 732.2 2036.6 735.7 2034.8 738.2 2032.9 742.7 2027.8 743.7 2027.3 744.4 2027.5 745.9 2028.7 748.4 2032.2 749.7 2033.4 751.9 2035.1 755.4 2037.4 757.4 2038.5 759.7 2039.3 766.4 2041.1 772.7 2042.1 783.9 2043.3 795.4 2044 799.9 2044 805.4 2043.7 818.2 2042.4" fill="none" stroke="#e80000" stroke-width="2.0" stroke-linejoin="round" stroke-linecap="butt"/>
<text x="36.9" y="2047.3" font-size="24.5" font-weight="bold" text-anchor="middle" fill="#000">(ii)</text>
<line x1="180.6" y1="2113.7" x2="180.6" y2="2150.9" stroke="#000" stroke-width="1.7" stroke-linecap="butt"/>
<line x1="179.8" y1="2113.7" x2="187.1" y2="2113.7" stroke="#000" stroke-width="1.7" stroke-linecap="butt"/>
<text x="173.8" y="2121" font-size="17" text-anchor="end" fill="#000">1</text>
<line x1="179.8" y1="2150.9" x2="187.1" y2="2150.9" stroke="#000" stroke-width="1.7" stroke-linecap="butt"/>
<text x="173.8" y="2158.2" font-size="17" text-anchor="end" fill="#000">0</text>
<text x="180.8" y="2111.7" font-size="19.0" fill="#505050">&#215;</text>
<text x="193.1" y="2110" font-size="17.6" fill="#1a1a1a">10</text>
<text x="212.2" y="2101.2" font-size="14.3" fill="#1a1a1a">-3</text>
<path d="M180.6 2150.5 252.9 2150.5 255.4 2150.3 257.9 2149.6 258.6 2149 259.4 2147.7 259.9 2146.6 260.4 2144.7 261.6 2136.5 262.9 2126.2 263.6 2121.6 263.9 2121 264.4 2121.9 264.9 2123.8 266.4 2135.8 267.4 2140.8 268.1 2143.3 269.4 2145.7 270.6 2147.1 272.6 2148.2 275.1 2149.1 278.1 2149.6 283.9 2150.1 296.9 2150.4 342.9 2150.6 373.1 2150.5 375.1 2150.3 376.9 2150 378.4 2149.4 379.1 2148.5 380.1 2146.4 380.6 2144.3 381.6 2137.8 383.6 2122.6 383.9 2121.4 384.1 2121 384.6 2122.1 385.1 2124.1 386.4 2134.6 387.4 2140 388.1 2142.8 389.4 2145.4 390.9 2147.2 393.9 2148.6 396.9 2149.4 402.1 2150 407.1 2150.3 417.4 2150.4 449.9 2150.6 493.4 2150.5 495.4 2150.3 497.1 2150 498.4 2149.6 499.1 2148.8 500.2 2146.9 500.7 2145.2 501.9 2137.3 503.7 2123.7 504.2 2121.2 504.4 2121 504.9 2122.3 505.4 2124.5 506.7 2135.1 507.7 2140.3 508.4 2143 509.7 2145.5 510.9 2147 512.9 2148.1 515.4 2149 518.2 2149.5 523.9 2150.1 536.4 2150.4 578.9 2150.6 613.4 2150.5 615.4 2150.4 617.7 2149.9 618.9 2149.3 619.9 2147.8 620.7 2146 622.2 2136.8 623.4 2126.5 624.4 2121.1 624.7 2121.1 624.9 2121.7 625.7 2124.9 626.9 2135.5 627.9 2140.6 628.7 2143.2 629.9 2145.6 631.2 2147.1 633.2 2148.2 635.7 2149 638.4 2149.6 643.9 2150.1 654.7 2150.4 681.4 2150.6 734.4 2150.5 736.9 2150.1 738.9 2149.5 739.7 2148.6 740.7 2146.5 741.7 2141.5 744.2 2122.8 744.7 2121 745.2 2121.9 745.7 2123.9 747.2 2135.9 748.7 2142.7 749.7 2144.9 750.9 2146.7 751.9 2147.4 753.9 2148.4 755.9 2149.1 757.9 2149.5 767.4 2150.3 789.9 2150.6 818.2 2150.6" fill="none" stroke="#0000e0" stroke-width="2.0" stroke-linejoin="round" stroke-linecap="butt"/>
<text x="37" y="2138.5" font-size="24.5" font-weight="bold" text-anchor="middle" fill="#000">(iii)</text>
<line x1="180.6" y1="2206.8" x2="180.6" y2="2243.8" stroke="#000" stroke-width="1.7" stroke-linecap="butt"/>
<line x1="179.8" y1="2206.8" x2="187.1" y2="2206.8" stroke="#000" stroke-width="1.7" stroke-linecap="butt"/>
<text x="173.8" y="2214.1" font-size="17" text-anchor="end" fill="#000">6</text>
<line x1="179.8" y1="2243.8" x2="187.1" y2="2243.8" stroke="#000" stroke-width="1.7" stroke-linecap="butt"/>
<text x="173.8" y="2251.1" font-size="17" text-anchor="end" fill="#000">4</text>
<text x="180.8" y="2205.2" font-size="19.0" fill="#505050">&#215;</text>
<text x="193.1" y="2203.5" font-size="17.6" fill="#1a1a1a">10</text>
<text x="212.2" y="2194.7" font-size="14.3" fill="#1a1a1a">-7</text>
<path d="M180.6 2222.6 204.9 2225.3 237.4 2230.1 246.9 2232 254.4 2233.9 257.9 2235 259.1 2235.2 260.4 2234.9 261.6 2234 262.6 2232.6 264.6 2228.7 265.9 2226.7 267.1 2225.5 269.1 2224.4 271.9 2223.5 274.6 2223 282.1 2222.3 289.9 2222.1 294.6 2222.1 298.9 2222.4 319.6 2224.6 328.9 2225.8 362.1 2230.9 369.1 2232.4 374.9 2234 378.1 2235 379.4 2235.2 380.6 2234.9 381.9 2234 382.9 2232.5 384.9 2228.6 385.9 2227 387.1 2225.7 389.1 2224.5 391.6 2223.6 394.4 2223.1 402.1 2222.4 408.9 2222.1 414.4 2222.1 418.6 2222.4 439.4 2224.6 448.4 2225.7 482.4 2230.9 489.9 2232.6 499.4 2235.2 500.9 2234.9 502.2 2233.9 502.9 2232.8 505.2 2228.4 506.2 2226.9 507.4 2225.6 509.2 2224.6 511.7 2223.7 514.2 2223.1 521.9 2222.4 526.9 2222.2 534.2 2222.1 538.4 2222.3 567.4 2225.5 602.4 2230.9 609.7 2232.5 615.2 2233.9 618.4 2235 619.7 2235.2 621.2 2234.8 622.4 2233.8 626.2 2227.1 627.2 2226 628.7 2224.9 631.2 2223.9 633.7 2223.3 643.7 2222.3 652.9 2222.1 657.7 2222.3 686.2 2225.3 722.4 2230.9 729.7 2232.4 735.4 2233.9 738.7 2235 739.9 2235.2 741.4 2234.8 742.7 2233.7 745.9 2227.8 747.7 2225.7 749.2 2224.8 751.2 2223.9 753.4 2223.3 755.7 2223 764.2 2222.3 772.9 2222.1 777.4 2222.2 802.7 2224.9 818.2 2227.1" fill="none" stroke="#922200" stroke-width="2.0" stroke-linejoin="round" stroke-linecap="butt"/>
<text x="37" y="2228.4" font-size="24.5" font-weight="bold" text-anchor="middle" fill="#000">(iv)</text>
<line x1="180.6" y1="2299.7" x2="180.6" y2="2336.5" stroke="#000" stroke-width="1.7" stroke-linecap="butt"/>
<line x1="179.8" y1="2299.7" x2="187.1" y2="2299.7" stroke="#000" stroke-width="1.7" stroke-linecap="butt"/>
<text x="173.8" y="2307" font-size="17" text-anchor="end" fill="#000">2</text>
<line x1="179.8" y1="2336.5" x2="187.1" y2="2336.5" stroke="#000" stroke-width="1.7" stroke-linecap="butt"/>
<text x="173.8" y="2343.8" font-size="17" text-anchor="end" fill="#000">0</text>
<text x="180.8" y="2297.2" font-size="19.0" fill="#505050">&#215;</text>
<text x="193.1" y="2295.5" font-size="17.6" fill="#1a1a1a">10</text>
<text x="212.2" y="2286.7" font-size="14.3" fill="#1a1a1a">-5</text>
<path d="M180.6 2332.7 189.4 2333.4 198.4 2333.8 213.1 2333.7 228.1 2333.1 240.4 2331.7 245.9 2330.9 248.6 2330.3 251.1 2329.5 253.6 2328.4 255.6 2327.2 257.1 2325.9 258.9 2324 262.4 2318.6 263.1 2317.7 263.6 2317.5 264.6 2318.1 269.6 2323.3 274.4 2326.4 276.9 2327.7 280.6 2329.1 284.4 2330.2 287.9 2331 293.6 2331.9 300.4 2332.7 308.9 2333.4 317.1 2333.8 329.6 2333.8 346.6 2333.2 364.4 2331.2 368.9 2330.3 372.1 2329.2 375.1 2327.7 377.6 2325.6 379.4 2323.6 382.9 2318.1 383.4 2317.7 383.9 2317.5 384.6 2317.9 389.9 2323.3 394.4 2326.3 396.9 2327.6 400.4 2328.9 404.1 2330.1 407.6 2330.9 418.4 2332.5 432.6 2333.6 445.1 2333.9 463.9 2333.4 471.4 2332.8 483.6 2331.3 488.6 2330.4 491.9 2329.4 495.1 2327.8 497.6 2325.8 499.7 2323.5 502.9 2318.4 503.9 2317.5 504.4 2317.6 504.9 2318 509.9 2323.2 514.4 2326.2 516.9 2327.5 519.9 2328.7 526.9 2330.7 536.9 2332.3 550.7 2333.5 562.7 2333.9 577.7 2333.6 586.4 2333.2 594.7 2332.4 605.2 2331.1 608.7 2330.5 610.9 2329.8 614.9 2328 617.4 2326.2 619.7 2323.8 623.2 2318.3 623.7 2317.7 624.2 2317.5 625.2 2318 630.2 2323.2 634.2 2326 636.7 2327.3 639.2 2328.4 646.2 2330.5 655.7 2332.1 668.7 2333.3 681.4 2333.9 693.4 2333.8 704.9 2333.3 711.4 2332.8 724.4 2331.3 728.2 2330.6 730.7 2330 734.9 2328.1 737.4 2326.4 739.9 2323.7 743.4 2318.2 743.9 2317.7 744.4 2317.5 745.4 2318.1 750.4 2323.3 754.7 2326.2 757.2 2327.5 760.2 2328.7 767.2 2330.7 777.4 2332.3 791.2 2333.5 803.2 2333.9 818.2 2333.6" fill="none" stroke="#007f00" stroke-width="2.0" stroke-linejoin="round" stroke-linecap="butt"/>
<text x="36.9" y="2321.5" font-size="24.5" font-weight="bold" text-anchor="middle" fill="#000">(v)</text>
<line x1="180.6" y1="2384.9" x2="180.6" y2="2422.2" stroke="#000" stroke-width="1.7" stroke-linecap="butt"/>
<line x1="179.8" y1="2384.9" x2="187.1" y2="2384.9" stroke="#000" stroke-width="1.7" stroke-linecap="butt"/>
<text x="173.8" y="2392.2" font-size="17" text-anchor="end" fill="#000">1.31</text>
<line x1="179.8" y1="2422.2" x2="187.1" y2="2422.2" stroke="#000" stroke-width="1.7" stroke-linecap="butt"/>
<text x="173.8" y="2429.5" font-size="17" text-anchor="end" fill="#000">1.3</text>
<text x="181.3" y="2382.9" font-size="19.0" fill="#505050">&#215;</text>
<text x="193.6" y="2381.2" font-size="17.6" fill="#1a1a1a">10</text>
<text x="212.7" y="2372.4" font-size="14.3" fill="#1a1a1a">-13</text>
<path d="M180.6 2406.3 205.1 2403.1 229.1 2400.6 248.4 2399 259.4 2398.6 261.9 2398.9 262.9 2399.3 263.6 2400 264.9 2401.7 267.6 2406.7 269.1 2408.3 270.9 2409 274.1 2409.2 277.1 2409.1 281.9 2408.6 321.9 2403.5 341.4 2401.4 362.1 2399.5 371.9 2398.8 379.1 2398.6 381.9 2398.8 382.9 2399.2 383.6 2399.8 385.1 2401.8 387.9 2406.8 389.4 2408.3 391.1 2409 394.4 2409.2 397.4 2409.1 402.1 2408.6 441.9 2403.6 460.9 2401.4 481.6 2399.5 491.4 2398.9 498.4 2398.6 501.4 2398.7 503.2 2399.3 504.2 2400.1 504.9 2401.1 507.7 2406.1 509.2 2408 510.2 2408.7 511.2 2409 514.4 2409.2 517.4 2409.1 522.4 2408.6 561.9 2403.6 579.9 2401.6 600.2 2399.6 616.4 2398.7 621.2 2398.6 623.2 2399.2 624.2 2399.9 624.9 2400.8 627.9 2406.2 629.4 2408.1 631.2 2409 634.2 2409.2 637.4 2409.1 642.4 2408.6 681.9 2403.6 698.7 2401.7 718.4 2399.8 733.9 2398.8 741.2 2398.6 742.4 2398.8 743.4 2399.2 744.4 2400 745.2 2400.9 747.9 2405.9 749.2 2407.7 749.9 2408.3 750.9 2408.8 753.2 2409.2 757.2 2409.1 762.4 2408.6 802.2 2403.6 818.2 2401.8" fill="none" stroke="#ad00ad" stroke-width="2.0" stroke-linejoin="round" stroke-linecap="butt"/>
<text x="37" y="2411" font-size="24.5" font-weight="bold" text-anchor="middle" fill="#000">(vi)</text>
<text x="143.6" y="2249.5" font-size="19.5" font-weight="bold" text-anchor="middle" transform="rotate(-90 143.6 2249.5)">ATP<tspan dy="6" font-size="14">used</tspan><tspan dy="-6"> (mM)</tspan></text>
<text x="840.7" y="2035.6" font-size="19" font-weight="bold" text-anchor="middle" fill="#e80000" transform="rotate(90 840.7 2035.6)">AP</text>
<text x="840.7" y="2134.3" font-size="19" font-weight="bold" text-anchor="middle" fill="#0000e0" transform="rotate(90 840.7 2134.3)">VR</text>
<text x="840.7" y="2228.8" font-size="19" font-weight="bold" text-anchor="middle" fill="#922200" transform="rotate(90 840.7 2228.8)">DP</text>
<text x="840.7" y="2319.5" font-size="19" font-weight="bold" text-anchor="middle" fill="#007f00" transform="rotate(90 840.7 2319.5)">ES</text>
<text x="842.4" y="2395" font-size="19" font-weight="bold" text-anchor="middle" fill="#ad00ad" transform="rotate(90 842.4 2395)">PD</text>
<line x1="753.6" y1="2454.6" x2="819.8" y2="2454.6" stroke="#000" stroke-width="1.6" stroke-linecap="butt"/>
<text x="787.4" y="2476.2" font-size="17.3" font-weight="bold" text-anchor="middle">100 ms</text>
<text x="0" y="0" font-size="53" font-weight="bold" fill="#000" transform="translate(874.6 1672.4) scale(1.02 1)">F</text>
<rect x="966.7" y="1770.8" width="764.8" height="590.4" fill="none" stroke="#000" stroke-width="1.6"/>
<text x="966.7" y="2390.9" font-size="21" text-anchor="middle" fill="#262626">0</text>
<line x1="1051.7" y1="2361.2" x2="1051.7" y2="2352.7" stroke="#000" stroke-width="1.6" stroke-linecap="butt"/>
<line x1="1051.7" y1="1770.8" x2="1051.7" y2="1779.3" stroke="#000" stroke-width="1.6" stroke-linecap="butt"/>
<text x="1051.7" y="2390.9" font-size="21" text-anchor="middle" fill="#262626">1</text>
<line x1="1136.7" y1="2361.2" x2="1136.7" y2="2352.7" stroke="#000" stroke-width="1.6" stroke-linecap="butt"/>
<line x1="1136.7" y1="1770.8" x2="1136.7" y2="1779.3" stroke="#000" stroke-width="1.6" stroke-linecap="butt"/>
<text x="1136.7" y="2390.9" font-size="21" text-anchor="middle" fill="#262626">2</text>
<line x1="1221.6" y1="2361.2" x2="1221.6" y2="2352.7" stroke="#000" stroke-width="1.6" stroke-linecap="butt"/>
<line x1="1221.6" y1="1770.8" x2="1221.6" y2="1779.3" stroke="#000" stroke-width="1.6" stroke-linecap="butt"/>
<text x="1221.6" y="2390.9" font-size="21" text-anchor="middle" fill="#262626">3</text>
<line x1="1306.6" y1="2361.2" x2="1306.6" y2="2352.7" stroke="#000" stroke-width="1.6" stroke-linecap="butt"/>
<line x1="1306.6" y1="1770.8" x2="1306.6" y2="1779.3" stroke="#000" stroke-width="1.6" stroke-linecap="butt"/>
<text x="1306.6" y="2390.9" font-size="21" text-anchor="middle" fill="#262626">4</text>
<line x1="1391.6" y1="2361.2" x2="1391.6" y2="2352.7" stroke="#000" stroke-width="1.6" stroke-linecap="butt"/>
<line x1="1391.6" y1="1770.8" x2="1391.6" y2="1779.3" stroke="#000" stroke-width="1.6" stroke-linecap="butt"/>
<text x="1391.6" y="2390.9" font-size="21" text-anchor="middle" fill="#262626">5</text>
<line x1="1476.6" y1="2361.2" x2="1476.6" y2="2352.7" stroke="#000" stroke-width="1.6" stroke-linecap="butt"/>
<line x1="1476.6" y1="1770.8" x2="1476.6" y2="1779.3" stroke="#000" stroke-width="1.6" stroke-linecap="butt"/>
<text x="1476.6" y="2390.9" font-size="21" text-anchor="middle" fill="#262626">6</text>
<line x1="1561.5" y1="2361.2" x2="1561.5" y2="2352.7" stroke="#000" stroke-width="1.6" stroke-linecap="butt"/>
<line x1="1561.5" y1="1770.8" x2="1561.5" y2="1779.3" stroke="#000" stroke-width="1.6" stroke-linecap="butt"/>
<text x="1561.5" y="2390.9" font-size="21" text-anchor="middle" fill="#262626">7</text>
<line x1="1646.5" y1="2361.2" x2="1646.5" y2="2352.7" stroke="#000" stroke-width="1.6" stroke-linecap="butt"/>
<line x1="1646.5" y1="1770.8" x2="1646.5" y2="1779.3" stroke="#000" stroke-width="1.6" stroke-linecap="butt"/>
<text x="1646.5" y="2390.9" font-size="21" text-anchor="middle" fill="#262626">8</text>
<text x="1731.5" y="2390.9" font-size="21" text-anchor="middle" fill="#262626">9</text>
<text x="958.5" y="2369.5" font-size="21" text-anchor="end" fill="#262626">0</text>
<line x1="966.7" y1="2267.9" x2="975" y2="2267.9" stroke="#000" stroke-width="1.6" stroke-linecap="butt"/>
<line x1="1731.5" y1="2267.9" x2="1723.2" y2="2267.9" stroke="#000" stroke-width="1.6" stroke-linecap="butt"/>
<text x="958.5" y="2276.2" font-size="21" text-anchor="end" fill="#262626">20</text>
<line x1="966.7" y1="2174.6" x2="975" y2="2174.6" stroke="#000" stroke-width="1.6" stroke-linecap="butt"/>
<line x1="1731.5" y1="2174.6" x2="1723.2" y2="2174.6" stroke="#000" stroke-width="1.6" stroke-linecap="butt"/>
<text x="958.5" y="2182.9" font-size="21" text-anchor="end" fill="#262626">40</text>
<line x1="966.7" y1="2081.3" x2="975" y2="2081.3" stroke="#000" stroke-width="1.6" stroke-linecap="butt"/>
<line x1="1731.5" y1="2081.3" x2="1723.2" y2="2081.3" stroke="#000" stroke-width="1.6" stroke-linecap="butt"/>
<text x="958.5" y="2089.6" font-size="21" text-anchor="end" fill="#262626">60</text>
<line x1="966.7" y1="1988" x2="975" y2="1988" stroke="#000" stroke-width="1.6" stroke-linecap="butt"/>
<line x1="1731.5" y1="1988" x2="1723.2" y2="1988" stroke="#000" stroke-width="1.6" stroke-linecap="butt"/>
<text x="958.5" y="1996.3" font-size="21" text-anchor="end" fill="#262626">80</text>
<line x1="966.7" y1="1894.7" x2="975" y2="1894.7" stroke="#000" stroke-width="1.6" stroke-linecap="butt"/>
<line x1="1731.5" y1="1894.7" x2="1723.2" y2="1894.7" stroke="#000" stroke-width="1.6" stroke-linecap="butt"/>
<text x="958.5" y="1903" font-size="21" text-anchor="end" fill="#262626">100</text>
<line x1="966.7" y1="1801.4" x2="975" y2="1801.4" stroke="#000" stroke-width="1.6" stroke-linecap="butt"/>
<line x1="1731.5" y1="1801.4" x2="1723.2" y2="1801.4" stroke="#000" stroke-width="1.6" stroke-linecap="butt"/>
<text x="958.5" y="1809.7" font-size="21" text-anchor="end" fill="#262626">120</text>
<text x="1677.2" y="2427.7" font-size="23.2" fill="#505050">&#215;</text>
<text x="1692.3" y="2425.6" font-size="21.5" fill="#1a1a1a">10</text>
<text x="1715.6" y="2414.8" font-size="17.4" fill="#1a1a1a">-4</text>
<text x="1348.6" y="1756.2" font-size="29.8" font-weight="bold" text-anchor="middle" fill="#111">nRRP vs Extracellular DA conc.</text>
<text x="1349.1" y="2422.3" font-size="25.4" font-weight="bold" text-anchor="middle" fill="#111">Extracellular DA conc. (mM)</text>
<text x="912.6" y="2066.5" font-size="25.8" font-weight="bold" text-anchor="middle" fill="#111" transform="rotate(-90 912.6 2066.5)">nRRP</text>
<path d="M966.7 2361.2 970.3 2353.4 975 2343.8 979.8 2334.9 984.6 2326.8 989.3 2319.2 995.3 2310.5 1000.1 2304 1006 2296.4 1012 2289.3 1019.1 2281.4 1026.3 2273.9 1033.4 2266.8 1041.8 2259 1050.1 2251.5 1059.7 2243.2 1070.4 2234.2 1088.3 2219.8 1108.5 2203.9 1133.5 2184.6 1168.1 2158.3 1680.5 1772.3" fill="none" stroke="#0072bd" stroke-width="3.2" stroke-linejoin="round" stroke-linecap="butt"/>
<rect x="1220.6" y="1935.8" width="460.6" height="11.4" fill="#ff0000"/>
<rect x="1093.2" y="2127.3" width="214.4" height="11.4" fill="#ff0000"/>
<rect x="1046.2" y="2206.4" width="108.3" height="11.4" fill="#ff0000"/>
<rect x="988.7" y="2304.9" width="13.3" height="10.6" fill="#ff0000"/>
<rect x="971.2" y="2314.3" width="21.6" height="10.6" fill="#ff0000"/>
<rect x="971.2" y="2332.8" width="13.1" height="10.8" fill="#ff0000"/>
<text x="1210" y="1946.8" font-size="17" text-anchor="end" fill="#111">Gonon, 1988</text>
<text x="1317.2" y="2138.5" font-size="17" fill="#111">Schultz, 1998</text>
<text x="1164.3" y="2219.7" font-size="17" fill="#111">Chen &amp; Budygin, 2007</text>
<text x="1015.2" y="2312.6" font-size="17" fill="#111">Garris et.al., 2002</text>
<text x="1002.6" y="2330.5" font-size="17" fill="#111">Koshkina, 2006</text>
<text x="990.8" y="2348.6" font-size="17" fill="#111">Chen, 2005</text></svg>
</body></html>
